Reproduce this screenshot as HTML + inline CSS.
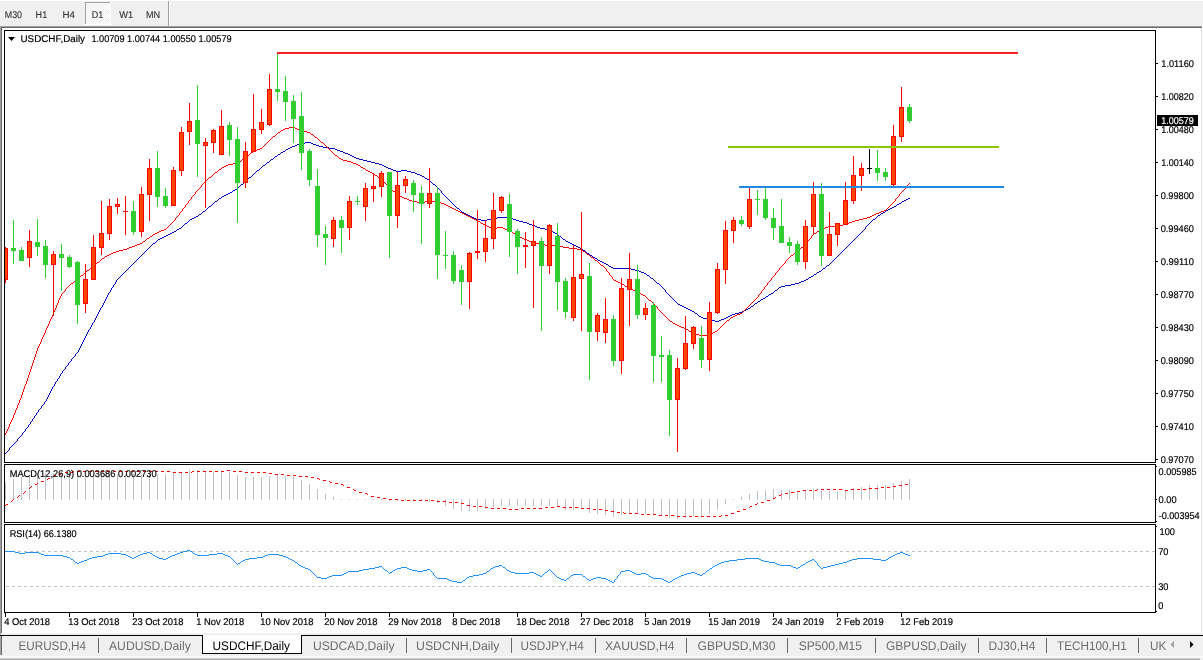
<!DOCTYPE html>
<html lang="en"><head><meta charset="utf-8"><title>USDCHF,Daily</title>
<style>html,body{margin:0;padding:0}body{width:1203px;height:660px;overflow:hidden;background:#f0f0f0;position:relative}svg{position:absolute;left:0;top:0;display:block}text{font-family:"Liberation Sans", sans-serif;white-space:pre;text-rendering:geometricPrecision}</style></head><body>
<svg width="1203" height="660" viewBox="0 0 1203 660" shape-rendering="crispEdges">
<rect x="0" y="0" width="1203" height="660" fill="#f0f0f0"/>
<rect x="0" y="0" width="1203" height="1" fill="#ffffff"/>
<rect x="2" y="28" width="1199" height="605" fill="#ffffff"/>
<rect x="1202" y="26" width="1" height="609" fill="#ffffff"/>
<rect x="1201" y="28" width="1" height="605" fill="#e3e3e3"/>
<rect x="0" y="26" width="1202" height="1" fill="#a0a0a0"/>
<rect x="1" y="27" width="1201" height="1" fill="#696969"/>
<rect x="0" y="26" width="1" height="629" fill="#a0a0a0"/>
<rect x="1" y="27" width="1" height="606" fill="#696969"/>
<rect x="2" y="633" width="1201" height="2" fill="#f0f0f0"/>
<rect x="0" y="635" width="1203" height="1" fill="#000000"/>
<rect x="0" y="636" width="1" height="19" fill="#a0a0a0"/>
<rect x="1" y="636" width="1" height="19" fill="#696969"/>
<rect x="0" y="656" width="1203" height="2" fill="#fafafa"/>
<rect x="0" y="658" width="1200" height="1" fill="#d0d0d0"/>
<rect x="0" y="659" width="1200" height="1" fill="#aaaaaa"/>
<defs><pattern id="chk" width="2" height="2" patternUnits="userSpaceOnUse"><rect width="2" height="2" fill="#fff"/><rect width="1" height="1" fill="#f0f0f0"/><rect x="1" y="1" width="1" height="1" fill="#f0f0f0"/></pattern></defs>
<rect x="86" y="3" width="24" height="21" fill="url(#chk)"/>
<rect x="85" y="2" width="25" height="1" fill="#a0a0a0"/>
<rect x="85" y="2" width="1" height="22" fill="#a0a0a0"/>
<rect x="85" y="24" width="26" height="1" fill="#ffffff"/>
<rect x="110" y="2" width="1" height="23" fill="#ffffff"/>
<rect x="168" y="1" width="1" height="25" fill="#a0a0a0"/>
<rect x="169" y="1" width="1" height="25" fill="#ffffff"/>
<g shape-rendering="auto" text-rendering="geometricPrecision">
<text x="4.8" y="18" font-size="9.8" fill="#333" textLength="17.2" lengthAdjust="spacingAndGlyphs" stroke="#333" stroke-width="0.12">M30</text>
<text x="35.6" y="18" font-size="9.8" fill="#333" textLength="11.6" lengthAdjust="spacingAndGlyphs" stroke="#333" stroke-width="0.12">H1</text>
<text x="62.5" y="18" font-size="9.8" fill="#333" textLength="12.4" lengthAdjust="spacingAndGlyphs" stroke="#333" stroke-width="0.12">H4</text>
<text x="91.7" y="18" font-size="9.8" fill="#333" textLength="11.5" lengthAdjust="spacingAndGlyphs" stroke="#333" stroke-width="0.12">D1</text>
<text x="119.3" y="18" font-size="9.8" fill="#333" textLength="13.9" lengthAdjust="spacingAndGlyphs" stroke="#333" stroke-width="0.12">W1</text>
<text x="146" y="18" font-size="9.8" fill="#333" textLength="14.2" lengthAdjust="spacingAndGlyphs" stroke="#333" stroke-width="0.12">MN</text>
</g>
<rect x="4" y="30" width="1152" height="1" fill="#000"/>
<rect x="4" y="462" width="1152" height="1" fill="#000"/>
<rect x="4" y="30" width="1" height="433" fill="#000"/>
<rect x="1155" y="30" width="1" height="433" fill="#000"/>
<rect x="4" y="464" width="1152" height="1" fill="#000"/>
<rect x="4" y="522" width="1152" height="1" fill="#000"/>
<rect x="4" y="464" width="1" height="59" fill="#000"/>
<rect x="1155" y="464" width="1" height="59" fill="#000"/>
<rect x="4" y="524" width="1152" height="1" fill="#000"/>
<rect x="4" y="612" width="1152" height="1" fill="#000"/>
<rect x="4" y="524" width="1" height="89" fill="#000"/>
<rect x="1155" y="524" width="1" height="89" fill="#000"/>
<defs><clipPath id="c1"><rect x="5" y="31" width="1150" height="431"/></clipPath><clipPath id="c2"><rect x="5" y="465" width="1150" height="57"/></clipPath><clipPath id="c3"><rect x="5" y="525" width="1150" height="87"/></clipPath></defs>
<g clip-path="url(#c1)">
<path d="M305 142h6v1h-6zM300 143h5v1h-5zM311 143h2v1h-2zM297 144h3v1h-3zM313 144h3v1h-3zM295 145h2v1h-2zM316 145h3v1h-3zM292 146h3v1h-3zM319 146h4v1h-4zM290 147h2v1h-2zM323 147h6v1h-6zM288 148h2v1h-2zM329 148h6v1h-6zM286 149h2v1h-2zM335 149h2v1h-2zM285 150h1v1h-1zM337 150h3v1h-3zM283 151h2v1h-2zM340 151h3v1h-3zM281 152h2v1h-2zM343 152h2v1h-2zM280 153h1v1h-1zM345 153h3v1h-3zM278 154h2v1h-2zM348 154h2v1h-2zM277 155h1v1h-1zM350 155h2v1h-2zM275 156h2v1h-2zM352 156h2v1h-2zM274 157h1v1h-1zM354 157h2v1h-2zM273 158h1v1h-1zM356 158h3v1h-3zM271 159h2v1h-2zM359 159h4v1h-4zM270 160h1v1h-1zM363 160h4v1h-4zM269 161h1v1h-1zM367 161h4v1h-4zM267 162h2v1h-2zM371 162h4v1h-4zM266 163h1v1h-1zM375 163h4v1h-4zM265 164h1v1h-1zM379 164h3v1h-3zM263 165h2v1h-2zM382 165h2v1h-2zM262 166h1v1h-1zM384 166h2v1h-2zM261 167h1v1h-1zM386 167h2v1h-2zM260 168h1v1h-1zM388 168h3v1h-3zM259 169h1v1h-1zM391 169h2v1h-2zM257 170h2v1h-2zM393 170h3v1h-3zM401 170h6v1h-6zM256 171h1v1h-1zM396 171h5v1h-5zM407 171h4v1h-4zM255 172h1v1h-1zM411 172h4v1h-4zM254 173h1v1h-1zM415 173h2v1h-2zM253 174h1v1h-1zM417 174h3v1h-3zM252 175h1v1h-1zM420 175h2v1h-2zM251 176h1v1h-1zM422 176h2v1h-2zM249 177h2v1h-2zM424 177h1v1h-1zM248 178h1v1h-1zM425 178h2v1h-2zM247 179h1v1h-1zM427 179h2v1h-2zM246 180h1v1h-1zM429 180h1v1h-1zM245 181h1v1h-1zM430 181h1v1h-1zM244 182h1v1h-1zM431 182h1v1h-1zM243 183h1v1h-1zM432 183h1v1h-1zM241 184h2v1h-2zM433 184h2v1h-2zM240 185h1v1h-1zM435 185h1v1h-1zM239 186h1v1h-1zM436 186h1v1h-1zM238 187h1v1h-1zM437 187h1v1h-1zM237 188h1v1h-1zM438 188h1v1h-1zM235 189h2v1h-2zM439 189h1v1h-1zM233 190h2v1h-2zM440 190h1v1h-1zM232 191h1v1h-1zM441 191h1v2h-1zM230 192h2v1h-2zM228 193h2v1h-2zM442 193h1v1h-1zM226 194h2v1h-2zM443 194h1v1h-1zM224 195h2v1h-2zM444 195h1v1h-1zM222 196h2v1h-2zM445 196h1v1h-1zM221 197h1v1h-1zM446 197h1v1h-1zM219 198h2v1h-2zM447 198h1v1h-1zM908 198h2v1h-2zM218 199h1v1h-1zM448 199h1v1h-1zM906 199h2v1h-2zM217 200h1v1h-1zM449 200h1v1h-1zM904 200h2v1h-2zM215 201h2v1h-2zM450 201h1v1h-1zM902 201h2v1h-2zM214 202h1v1h-1zM451 202h1v1h-1zM901 202h1v1h-1zM213 203h1v1h-1zM452 203h1v1h-1zM899 203h2v1h-2zM212 204h1v1h-1zM453 204h1v1h-1zM897 204h2v1h-2zM211 205h1v1h-1zM454 205h1v1h-1zM896 205h1v1h-1zM209 206h2v1h-2zM455 206h1v1h-1zM894 206h2v1h-2zM208 207h1v1h-1zM456 207h1v1h-1zM892 207h2v1h-2zM207 208h1v1h-1zM457 208h2v1h-2zM890 208h2v1h-2zM206 209h1v1h-1zM459 209h1v1h-1zM888 209h2v1h-2zM205 210h1v1h-1zM460 210h1v1h-1zM886 210h2v1h-2zM203 211h2v1h-2zM461 211h1v1h-1zM885 211h1v1h-1zM202 212h1v1h-1zM462 212h2v1h-2zM883 212h2v1h-2zM201 213h1v1h-1zM464 213h2v1h-2zM881 213h2v1h-2zM199 214h2v1h-2zM466 214h2v1h-2zM880 214h1v1h-1zM198 215h1v1h-1zM468 215h2v1h-2zM878 215h2v1h-2zM196 216h2v1h-2zM470 216h2v1h-2zM877 216h1v1h-1zM194 217h2v1h-2zM472 217h2v1h-2zM497 217h14v1h-14zM876 217h1v1h-1zM192 218h2v1h-2zM474 218h2v1h-2zM491 218h6v1h-6zM511 218h2v1h-2zM875 218h1v1h-1zM190 219h2v1h-2zM476 219h5v1h-5zM487 219h4v1h-4zM513 219h3v1h-3zM873 219h2v1h-2zM189 220h1v1h-1zM481 220h6v1h-6zM516 220h3v1h-3zM872 220h1v1h-1zM188 221h1v1h-1zM519 221h4v1h-4zM871 221h1v1h-1zM187 222h1v1h-1zM523 222h4v1h-4zM870 222h1v1h-1zM185 223h2v1h-2zM527 223h2v1h-2zM869 223h1v1h-1zM184 224h1v1h-1zM529 224h3v1h-3zM868 224h1v1h-1zM183 225h1v1h-1zM532 225h3v1h-3zM867 225h1v1h-1zM182 226h1v1h-1zM535 226h2v1h-2zM866 226h1v1h-1zM181 227h1v1h-1zM537 227h3v1h-3zM865 227h1v2h-1zM179 228h2v1h-2zM540 228h5v1h-5zM177 229h2v1h-2zM545 229h5v1h-5zM864 229h1v1h-1zM176 230h1v1h-1zM550 230h2v1h-2zM863 230h1v1h-1zM174 231h2v1h-2zM552 231h1v1h-1zM862 231h1v1h-1zM172 232h2v1h-2zM553 232h2v1h-2zM861 232h1v1h-1zM170 233h2v1h-2zM555 233h2v1h-2zM860 233h1v1h-1zM168 234h2v1h-2zM557 234h1v1h-1zM859 234h1v1h-1zM166 235h2v1h-2zM558 235h1v1h-1zM858 235h1v1h-1zM164 236h2v1h-2zM559 236h2v1h-2zM857 236h1v1h-1zM162 237h2v1h-2zM561 237h1v1h-1zM856 237h1v1h-1zM160 238h2v1h-2zM562 238h1v1h-1zM855 238h1v1h-1zM158 239h2v1h-2zM563 239h2v1h-2zM854 239h1v1h-1zM157 240h1v1h-1zM565 240h1v1h-1zM853 240h1v1h-1zM156 241h1v1h-1zM566 241h2v1h-2zM852 241h1v1h-1zM155 242h1v1h-1zM568 242h2v1h-2zM851 242h1v1h-1zM153 243h2v1h-2zM570 243h2v1h-2zM850 243h1v1h-1zM152 244h1v1h-1zM572 244h2v1h-2zM849 244h1v1h-1zM151 245h1v1h-1zM574 245h2v1h-2zM848 245h1v1h-1zM150 246h1v1h-1zM576 246h2v1h-2zM847 246h1v1h-1zM149 247h1v1h-1zM578 247h2v1h-2zM846 247h1v1h-1zM148 248h1v1h-1zM580 248h2v1h-2zM845 248h1v1h-1zM147 249h1v1h-1zM582 249h1v1h-1zM844 249h1v1h-1zM146 250h1v1h-1zM583 250h2v1h-2zM843 250h1v1h-1zM145 251h1v1h-1zM585 251h1v1h-1zM842 251h1v1h-1zM144 252h1v1h-1zM586 252h1v1h-1zM841 252h1v1h-1zM143 253h1v1h-1zM587 253h2v1h-2zM840 253h1v1h-1zM142 254h1v1h-1zM589 254h1v1h-1zM839 254h1v1h-1zM141 255h1v1h-1zM590 255h2v1h-2zM838 255h1v1h-1zM140 256h1v1h-1zM592 256h1v1h-1zM837 256h1v1h-1zM139 257h1v1h-1zM593 257h2v1h-2zM836 257h1v1h-1zM138 258h1v1h-1zM595 258h2v1h-2zM835 258h1v1h-1zM137 259h1v1h-1zM597 259h1v1h-1zM834 259h1v1h-1zM136 260h1v1h-1zM598 260h2v1h-2zM833 260h1v1h-1zM135 261h1v1h-1zM600 261h2v1h-2zM832 261h1v1h-1zM134 262h1v1h-1zM602 262h2v1h-2zM831 262h1v1h-1zM133 263h1v1h-1zM604 263h2v1h-2zM830 263h1v1h-1zM132 264h1v1h-1zM606 264h2v1h-2zM829 264h1v1h-1zM131 265h1v1h-1zM608 265h1v1h-1zM827 265h2v1h-2zM130 266h1v1h-1zM609 266h2v1h-2zM826 266h1v1h-1zM129 267h1v1h-1zM611 267h2v1h-2zM825 267h1v1h-1zM128 268h1v1h-1zM613 268h18v1h-18zM823 268h2v1h-2zM127 269h1v1h-1zM631 269h4v1h-4zM822 269h1v1h-1zM126 270h1v1h-1zM635 270h4v1h-4zM821 270h1v1h-1zM125 271h1v1h-1zM639 271h2v1h-2zM819 271h2v1h-2zM124 272h1v1h-1zM641 272h3v1h-3zM817 272h2v1h-2zM123 273h1v1h-1zM644 273h2v1h-2zM816 273h1v1h-1zM122 274h1v1h-1zM646 274h1v1h-1zM814 274h2v1h-2zM121 275h1v1h-1zM647 275h2v1h-2zM813 275h1v1h-1zM120 276h1v1h-1zM649 276h1v1h-1zM811 276h2v1h-2zM119 277h1v1h-1zM650 277h1v1h-1zM809 277h2v1h-2zM118 278h1v1h-1zM651 278h2v1h-2zM808 278h1v1h-1zM117 279h1v1h-1zM653 279h1v1h-1zM806 279h2v1h-2zM116 280h1v2h-1zM654 280h1v1h-1zM804 280h2v1h-2zM655 281h1v1h-1zM801 281h3v1h-3zM115 282h1v2h-1zM656 282h1v1h-1zM799 282h2v1h-2zM657 283h2v1h-2zM795 283h4v1h-4zM114 284h1v1h-1zM659 284h1v1h-1zM791 284h4v1h-4zM113 285h1v2h-1zM660 285h1v1h-1zM785 285h6v1h-6zM661 286h1v1h-1zM781 286h4v1h-4zM112 287h1v1h-1zM662 287h1v1h-1zM779 287h2v1h-2zM111 288h1v2h-1zM663 288h1v1h-1zM778 288h1v1h-1zM664 289h1v1h-1zM777 289h1v1h-1zM110 290h1v2h-1zM665 290h1v2h-1zM775 290h2v1h-2zM774 291h1v1h-1zM109 292h1v1h-1zM666 292h1v1h-1zM773 292h1v1h-1zM108 293h1v2h-1zM667 293h1v1h-1zM771 293h2v1h-2zM668 294h1v1h-1zM769 294h2v1h-2zM107 295h1v2h-1zM669 295h1v1h-1zM768 295h1v1h-1zM670 296h1v1h-1zM766 296h2v1h-2zM106 297h1v2h-1zM671 297h1v1h-1zM765 297h1v1h-1zM672 298h1v1h-1zM763 298h2v1h-2zM105 299h1v2h-1zM673 299h1v1h-1zM761 299h2v1h-2zM674 300h1v1h-1zM760 300h1v1h-1zM104 301h1v2h-1zM675 301h1v1h-1zM758 301h2v1h-2zM676 302h1v1h-1zM757 302h1v1h-1zM103 303h1v2h-1zM677 303h1v1h-1zM755 303h2v1h-2zM678 304h2v1h-2zM754 304h1v1h-1zM102 305h1v2h-1zM680 305h2v1h-2zM753 305h1v1h-1zM682 306h2v1h-2zM751 306h2v1h-2zM101 307h1v1h-1zM684 307h2v1h-2zM750 307h1v1h-1zM100 308h1v2h-1zM686 308h2v1h-2zM748 308h2v1h-2zM688 309h2v1h-2zM746 309h2v1h-2zM99 310h1v2h-1zM690 310h2v1h-2zM744 310h2v1h-2zM692 311h2v1h-2zM742 311h2v1h-2zM98 312h1v2h-1zM694 312h1v1h-1zM739 312h3v1h-3zM695 313h2v1h-2zM735 313h4v1h-4zM97 314h1v2h-1zM697 314h1v1h-1zM732 314h3v1h-3zM698 315h1v1h-1zM730 315h2v1h-2zM96 316h1v2h-1zM699 316h2v1h-2zM728 316h2v1h-2zM701 317h2v1h-2zM726 317h2v1h-2zM95 318h1v2h-1zM703 318h4v1h-4zM724 318h2v1h-2zM707 319h4v1h-4zM721 319h3v1h-3zM94 320h1v2h-1zM711 320h4v1h-4zM719 320h2v1h-2zM715 321h4v1h-4zM93 322h1v1h-1zM92 323h1v2h-1zM91 325h1v2h-1zM90 327h1v2h-1zM89 329h1v1h-1zM88 330h1v2h-1zM87 332h1v2h-1zM86 334h1v2h-1zM85 336h1v2h-1zM84 338h1v2h-1zM83 340h1v2h-1zM82 342h1v2h-1zM81 344h1v2h-1zM80 346h1v2h-1zM79 348h1v2h-1zM78 350h1v2h-1zM77 352h1v1h-1zM76 353h1v1h-1zM75 354h1v2h-1zM74 356h1v1h-1zM73 357h1v1h-1zM72 358h1v1h-1zM71 359h1v2h-1zM70 361h1v1h-1zM69 362h1v1h-1zM68 363h1v2h-1zM67 365h1v1h-1zM66 366h1v1h-1zM65 367h1v2h-1zM64 369h1v1h-1zM63 370h1v1h-1zM62 371h1v2h-1zM61 373h1v1h-1zM60 374h1v2h-1zM59 376h1v2h-1zM58 378h1v1h-1zM57 379h1v2h-1zM56 381h1v1h-1zM55 382h1v2h-1zM54 384h1v2h-1zM53 386h1v1h-1zM52 387h1v2h-1zM51 389h1v2h-1zM50 391h1v2h-1zM49 393h1v2h-1zM48 395h1v2h-1zM47 397h1v2h-1zM46 399h1v2h-1zM45 401h1v1h-1zM44 402h1v2h-1zM43 404h1v1h-1zM42 405h1v1h-1zM41 406h1v2h-1zM40 408h1v1h-1zM39 409h1v1h-1zM38 410h1v2h-1zM37 412h1v1h-1zM36 413h1v2h-1zM35 415h1v1h-1zM34 416h1v2h-1zM33 418h1v1h-1zM32 419h1v2h-1zM31 421h1v1h-1zM30 422h1v2h-1zM29 424h1v1h-1zM28 425h1v2h-1zM27 427h1v1h-1zM26 428h1v1h-1zM25 429h1v2h-1zM24 431h1v1h-1zM23 432h1v1h-1zM22 433h1v2h-1zM21 435h1v1h-1zM20 436h1v1h-1zM19 437h1v1h-1zM18 438h1v1h-1zM17 439h1v2h-1zM16 441h1v1h-1zM15 442h1v1h-1zM14 443h1v1h-1zM13 444h1v1h-1zM12 445h1v1h-1zM11 446h1v1h-1zM10 447h1v1h-1zM9 448h1v2h-1zM8 450h1v1h-1zM7 451h1v1h-1zM6 452h1v1h-1zM5 453h1v1h-1z" fill="#0000cd"/>
<path d="M289 127h6v1h-6zM285 128h4v1h-4zM295 128h2v1h-2zM283 129h2v1h-2zM297 129h3v1h-3zM281 130h2v1h-2zM300 130h3v1h-3zM280 131h1v1h-1zM303 131h4v1h-4zM278 132h2v1h-2zM307 132h3v1h-3zM277 133h1v1h-1zM310 133h1v1h-1zM276 134h1v1h-1zM311 134h2v1h-2zM275 135h1v1h-1zM313 135h1v1h-1zM273 136h2v1h-2zM314 136h1v1h-1zM272 137h1v1h-1zM315 137h2v1h-2zM271 138h1v1h-1zM317 138h1v1h-1zM270 139h1v1h-1zM318 139h1v1h-1zM269 140h1v1h-1zM319 140h1v1h-1zM268 141h1v1h-1zM320 141h1v1h-1zM267 142h1v1h-1zM321 142h2v1h-2zM266 143h1v1h-1zM323 143h1v1h-1zM265 144h1v1h-1zM324 144h1v1h-1zM264 145h1v1h-1zM325 145h1v1h-1zM263 146h1v1h-1zM326 146h1v1h-1zM262 147h1v1h-1zM327 147h1v1h-1zM260 148h2v1h-2zM328 148h1v1h-1zM257 149h3v1h-3zM329 149h1v1h-1zM255 150h2v1h-2zM330 150h1v1h-1zM253 151h2v1h-2zM331 151h1v1h-1zM251 152h2v1h-2zM332 152h1v1h-1zM250 153h1v1h-1zM333 153h1v1h-1zM249 154h1v1h-1zM334 154h1v1h-1zM247 155h2v1h-2zM335 155h2v1h-2zM246 156h1v1h-1zM337 156h1v1h-1zM245 157h1v1h-1zM338 157h1v1h-1zM243 158h2v1h-2zM339 158h2v1h-2zM242 159h1v1h-1zM341 159h2v1h-2zM241 160h1v1h-1zM343 160h4v1h-4zM239 161h2v1h-2zM347 161h4v1h-4zM238 162h1v1h-1zM351 162h2v1h-2zM233 163h5v1h-5zM353 163h3v1h-3zM228 164h5v1h-5zM356 164h2v1h-2zM226 165h2v1h-2zM358 165h2v1h-2zM224 166h2v1h-2zM360 166h1v1h-1zM222 167h2v1h-2zM361 167h2v1h-2zM221 168h1v1h-1zM363 168h2v1h-2zM219 169h2v1h-2zM365 169h1v1h-1zM218 170h1v1h-1zM366 170h2v1h-2zM217 171h1v1h-1zM368 171h2v1h-2zM215 172h2v1h-2zM370 172h2v1h-2zM214 173h1v1h-1zM372 173h2v1h-2zM213 174h1v1h-1zM374 174h1v1h-1zM212 175h1v1h-1zM375 175h2v1h-2zM211 176h1v1h-1zM377 176h1v1h-1zM209 177h2v1h-2zM378 177h1v1h-1zM208 178h1v1h-1zM379 178h2v1h-2zM207 179h1v1h-1zM381 179h1v1h-1zM206 180h1v1h-1zM382 180h1v1h-1zM205 181h1v1h-1zM383 181h1v1h-1zM204 182h1v1h-1zM384 182h1v1h-1zM203 183h1v1h-1zM385 183h1v1h-1zM909 183h1v1h-1zM202 184h1v1h-1zM386 184h1v1h-1zM908 184h1v1h-1zM201 185h1v2h-1zM387 185h1v1h-1zM907 185h1v1h-1zM388 186h1v1h-1zM906 186h1v1h-1zM200 187h1v1h-1zM389 187h1v1h-1zM905 187h1v2h-1zM199 188h1v1h-1zM390 188h1v1h-1zM198 189h1v1h-1zM391 189h1v1h-1zM904 189h1v1h-1zM197 190h1v1h-1zM392 190h1v1h-1zM903 190h1v1h-1zM196 191h1v1h-1zM393 191h2v1h-2zM902 191h1v1h-1zM195 192h1v2h-1zM395 192h1v1h-1zM901 192h1v1h-1zM396 193h1v1h-1zM900 193h1v1h-1zM194 194h1v1h-1zM397 194h1v1h-1zM899 194h1v2h-1zM193 195h1v1h-1zM398 195h2v1h-2zM192 196h1v1h-1zM400 196h2v1h-2zM898 196h1v1h-1zM191 197h1v2h-1zM402 197h2v1h-2zM897 197h1v1h-1zM404 198h3v1h-3zM896 198h1v1h-1zM190 199h1v1h-1zM407 199h2v1h-2zM895 199h1v2h-1zM189 200h1v1h-1zM409 200h3v1h-3zM188 201h1v2h-1zM412 201h5v1h-5zM425 201h14v1h-14zM894 201h1v1h-1zM417 202h8v1h-8zM439 202h2v1h-2zM893 202h1v1h-1zM187 203h1v1h-1zM441 203h3v1h-3zM892 203h1v1h-1zM186 204h1v1h-1zM444 204h2v1h-2zM891 204h1v1h-1zM185 205h1v2h-1zM446 205h2v1h-2zM890 205h1v1h-1zM448 206h2v1h-2zM889 206h1v1h-1zM184 207h1v1h-1zM450 207h2v1h-2zM888 207h1v1h-1zM183 208h1v1h-1zM452 208h2v1h-2zM887 208h1v1h-1zM182 209h1v2h-1zM454 209h2v1h-2zM886 209h1v1h-1zM456 210h2v1h-2zM884 210h2v1h-2zM181 211h1v1h-1zM458 211h2v1h-2zM881 211h3v1h-3zM180 212h1v1h-1zM460 212h2v1h-2zM879 212h2v1h-2zM179 213h1v2h-1zM462 213h2v1h-2zM876 213h3v1h-3zM464 214h2v1h-2zM874 214h2v1h-2zM178 215h1v1h-1zM466 215h2v1h-2zM872 215h2v1h-2zM177 216h1v1h-1zM468 216h2v1h-2zM870 216h2v1h-2zM176 217h1v1h-1zM470 217h2v1h-2zM867 217h3v1h-3zM175 218h1v2h-1zM472 218h2v1h-2zM863 218h4v1h-4zM474 219h2v1h-2zM859 219h4v1h-4zM174 220h1v1h-1zM476 220h2v1h-2zM855 220h4v1h-4zM173 221h1v1h-1zM478 221h2v1h-2zM852 221h3v1h-3zM172 222h1v1h-1zM480 222h1v1h-1zM849 222h3v1h-3zM171 223h1v1h-1zM481 223h2v1h-2zM847 223h2v1h-2zM170 224h1v1h-1zM483 224h2v1h-2zM843 224h4v1h-4zM169 225h1v1h-1zM485 225h2v1h-2zM839 225h4v1h-4zM168 226h1v1h-1zM487 226h2v1h-2zM828 226h11v1h-11zM167 227h1v1h-1zM489 227h3v1h-3zM497 227h6v1h-6zM825 227h3v1h-3zM166 228h1v1h-1zM492 228h5v1h-5zM503 228h2v1h-2zM823 228h2v1h-2zM164 229h2v1h-2zM505 229h3v1h-3zM821 229h2v1h-2zM161 230h3v1h-3zM508 230h2v1h-2zM819 230h2v1h-2zM159 231h2v1h-2zM510 231h2v1h-2zM817 231h2v1h-2zM157 232h2v1h-2zM512 232h1v1h-1zM816 232h1v1h-1zM155 233h2v1h-2zM513 233h2v1h-2zM814 233h2v1h-2zM153 234h2v1h-2zM515 234h2v1h-2zM813 234h1v1h-1zM152 235h1v1h-1zM517 235h1v1h-1zM812 235h1v1h-1zM150 236h2v1h-2zM518 236h2v1h-2zM811 236h1v2h-1zM149 237h1v1h-1zM520 237h2v1h-2zM147 238h2v1h-2zM522 238h2v1h-2zM810 238h1v1h-1zM146 239h1v1h-1zM524 239h3v1h-3zM809 239h1v1h-1zM145 240h1v1h-1zM527 240h2v1h-2zM808 240h1v1h-1zM143 241h2v1h-2zM529 241h3v1h-3zM807 241h1v2h-1zM142 242h1v1h-1zM532 242h3v1h-3zM140 243h2v1h-2zM535 243h4v1h-4zM806 243h1v1h-1zM137 244h3v1h-3zM539 244h6v1h-6zM805 244h1v1h-1zM135 245h2v1h-2zM545 245h14v1h-14zM804 245h1v1h-1zM132 246h3v1h-3zM559 246h4v1h-4zM803 246h1v1h-1zM129 247h3v1h-3zM563 247h6v1h-6zM801 247h2v1h-2zM127 248h2v1h-2zM569 248h8v1h-8zM800 248h1v1h-1zM123 249h4v1h-4zM577 249h5v1h-5zM799 249h1v1h-1zM119 250h4v1h-4zM582 250h1v1h-1zM798 250h1v1h-1zM116 251h3v1h-3zM583 251h2v1h-2zM797 251h1v1h-1zM113 252h3v1h-3zM585 252h1v1h-1zM795 252h2v1h-2zM111 253h2v1h-2zM586 253h1v1h-1zM794 253h1v1h-1zM109 254h2v1h-2zM587 254h2v1h-2zM793 254h1v1h-1zM107 255h2v1h-2zM589 255h1v1h-1zM791 255h2v1h-2zM105 256h2v1h-2zM590 256h1v1h-1zM790 256h1v1h-1zM104 257h1v1h-1zM591 257h2v1h-2zM789 257h1v1h-1zM102 258h2v1h-2zM593 258h1v1h-1zM788 258h1v1h-1zM101 259h1v1h-1zM594 259h1v1h-1zM787 259h1v1h-1zM100 260h1v1h-1zM595 260h2v1h-2zM786 260h1v1h-1zM99 261h1v1h-1zM597 261h1v1h-1zM785 261h1v2h-1zM97 262h2v1h-2zM598 262h1v1h-1zM96 263h1v1h-1zM599 263h1v1h-1zM784 263h1v1h-1zM95 264h1v1h-1zM600 264h1v1h-1zM783 264h1v1h-1zM94 265h1v1h-1zM601 265h2v1h-2zM782 265h1v1h-1zM93 266h1v1h-1zM603 266h1v1h-1zM781 266h1v1h-1zM91 267h2v1h-2zM604 267h1v1h-1zM780 267h1v1h-1zM90 268h1v1h-1zM605 268h1v1h-1zM779 268h1v2h-1zM89 269h1v1h-1zM606 269h1v2h-1zM87 270h2v1h-2zM778 270h1v1h-1zM86 271h1v1h-1zM607 271h1v1h-1zM777 271h1v1h-1zM85 272h1v1h-1zM608 272h1v1h-1zM776 272h1v1h-1zM84 273h1v1h-1zM609 273h1v2h-1zM775 273h1v2h-1zM83 274h1v1h-1zM81 275h2v1h-2zM610 275h1v1h-1zM774 275h1v1h-1zM80 276h1v1h-1zM611 276h1v1h-1zM773 276h1v1h-1zM79 277h1v1h-1zM612 277h1v2h-1zM772 277h1v1h-1zM78 278h1v1h-1zM771 278h1v2h-1zM77 279h1v1h-1zM613 279h1v1h-1zM75 280h2v1h-2zM614 280h2v1h-2zM770 280h1v1h-1zM74 281h1v1h-1zM616 281h2v1h-2zM769 281h1v1h-1zM73 282h1v1h-1zM618 282h2v1h-2zM768 282h1v1h-1zM71 283h2v1h-2zM620 283h2v1h-2zM767 283h1v2h-1zM70 284h1v1h-1zM622 284h2v1h-2zM69 285h1v1h-1zM624 285h1v1h-1zM766 285h1v1h-1zM68 286h1v1h-1zM625 286h2v1h-2zM765 286h1v1h-1zM67 287h1v1h-1zM627 287h2v1h-2zM764 287h1v2h-1zM66 288h1v1h-1zM629 288h2v1h-2zM65 289h1v2h-1zM631 289h2v1h-2zM763 289h1v1h-1zM633 290h3v1h-3zM762 290h1v1h-1zM64 291h1v1h-1zM636 291h2v1h-2zM761 291h1v2h-1zM63 292h1v1h-1zM638 292h2v1h-2zM62 293h1v1h-1zM640 293h1v1h-1zM760 293h1v1h-1zM61 294h1v2h-1zM641 294h2v1h-2zM759 294h1v1h-1zM643 295h2v1h-2zM758 295h1v2h-1zM60 296h1v2h-1zM645 296h1v1h-1zM646 297h1v1h-1zM757 297h1v1h-1zM59 298h1v2h-1zM647 298h1v1h-1zM756 298h1v1h-1zM648 299h1v1h-1zM755 299h1v1h-1zM58 300h1v3h-1zM649 300h2v1h-2zM754 300h1v1h-1zM651 301h1v1h-1zM753 301h1v1h-1zM652 302h1v1h-1zM752 302h1v1h-1zM57 303h1v2h-1zM653 303h1v1h-1zM751 303h1v1h-1zM654 304h1v1h-1zM750 304h1v1h-1zM56 305h1v3h-1zM655 305h1v1h-1zM749 305h1v1h-1zM656 306h1v1h-1zM748 306h1v1h-1zM657 307h1v2h-1zM747 307h1v1h-1zM55 308h1v2h-1zM746 308h1v1h-1zM658 309h1v1h-1zM745 309h1v1h-1zM54 310h1v2h-1zM659 310h1v1h-1zM744 310h1v1h-1zM660 311h1v1h-1zM743 311h1v1h-1zM53 312h1v3h-1zM661 312h1v1h-1zM742 312h1v1h-1zM662 313h1v1h-1zM740 313h2v1h-2zM663 314h1v1h-1zM737 314h3v1h-3zM52 315h1v2h-1zM664 315h1v1h-1zM735 315h2v1h-2zM665 316h1v1h-1zM733 316h2v1h-2zM51 317h1v2h-1zM666 317h1v1h-1zM731 317h2v1h-2zM667 318h1v1h-1zM730 318h1v1h-1zM50 319h1v2h-1zM668 319h1v1h-1zM729 319h1v1h-1zM669 320h1v1h-1zM727 320h2v1h-2zM49 321h1v3h-1zM670 321h2v1h-2zM726 321h1v1h-1zM672 322h1v1h-1zM725 322h1v1h-1zM673 323h2v1h-2zM724 323h1v1h-1zM48 324h1v2h-1zM675 324h2v1h-2zM723 324h1v1h-1zM677 325h2v1h-2zM722 325h1v1h-1zM47 326h1v2h-1zM679 326h2v1h-2zM721 326h1v1h-1zM681 327h3v1h-3zM720 327h1v1h-1zM46 328h1v2h-1zM684 328h2v1h-2zM719 328h1v1h-1zM686 329h2v1h-2zM718 329h1v1h-1zM45 330h1v3h-1zM688 330h1v1h-1zM717 330h1v1h-1zM689 331h2v1h-2zM715 331h2v1h-2zM691 332h2v1h-2zM713 332h2v1h-2zM44 333h1v2h-1zM693 333h2v1h-2zM712 333h1v1h-1zM695 334h4v1h-4zM710 334h2v1h-2zM43 335h1v2h-1zM699 335h11v1h-11zM42 337h1v2h-1zM41 339h1v3h-1zM40 342h1v2h-1zM39 344h1v2h-1zM38 346h1v2h-1zM37 348h1v3h-1zM36 351h1v3h-1zM35 354h1v3h-1zM34 357h1v3h-1zM33 360h1v3h-1zM32 363h1v3h-1zM31 366h1v3h-1zM30 369h1v3h-1zM29 372h1v3h-1zM28 375h1v3h-1zM27 378h1v3h-1zM26 381h1v3h-1zM25 384h1v2h-1zM24 386h1v3h-1zM23 389h1v3h-1zM22 392h1v3h-1zM21 395h1v3h-1zM20 398h1v2h-1zM19 400h1v3h-1zM18 403h1v2h-1zM17 405h1v3h-1zM16 408h1v2h-1zM15 410h1v3h-1zM14 413h1v2h-1zM13 415h1v3h-1zM12 418h1v2h-1zM11 420h1v2h-1zM10 422h1v2h-1zM9 424h1v3h-1zM8 427h1v2h-1zM7 429h1v2h-1zM6 431h1v2h-1zM5 433h1v2h-1z" fill="#ff0000"/>
<rect x="5" y="247" width="1" height="36" fill="#ff0000"/>
<rect x="3" y="248" width="5" height="32" fill="#ff0000"/>
<rect x="4" y="249" width="3" height="30" fill="#ff4500"/>
<rect x="13" y="220" width="1" height="44" fill="#32cd32"/>
<rect x="11" y="248" width="5" height="3" fill="#32cd32"/>
<rect x="21" y="247" width="1" height="14" fill="#32cd32"/>
<rect x="19" y="250" width="5" height="11" fill="#32cd32"/>
<rect x="29" y="230" width="1" height="37" fill="#ff0000"/>
<rect x="27" y="241" width="5" height="17" fill="#ff0000"/>
<rect x="28" y="242" width="3" height="15" fill="#ff4500"/>
<rect x="37" y="219" width="1" height="37" fill="#32cd32"/>
<rect x="35" y="242" width="5" height="5" fill="#32cd32"/>
<rect x="45" y="240" width="1" height="38" fill="#32cd32"/>
<rect x="43" y="246" width="5" height="19" fill="#32cd32"/>
<rect x="53" y="251" width="1" height="65" fill="#ff0000"/>
<rect x="51" y="254" width="5" height="11" fill="#ff0000"/>
<rect x="52" y="255" width="3" height="9" fill="#ff4500"/>
<rect x="61" y="244" width="1" height="47" fill="#32cd32"/>
<rect x="59" y="254" width="5" height="4" fill="#32cd32"/>
<rect x="69" y="255" width="1" height="13" fill="#32cd32"/>
<rect x="67" y="257" width="5" height="10" fill="#32cd32"/>
<rect x="77" y="261" width="1" height="63" fill="#32cd32"/>
<rect x="75" y="262" width="5" height="43" fill="#32cd32"/>
<rect x="85" y="264" width="1" height="49" fill="#ff0000"/>
<rect x="83" y="279" width="5" height="25" fill="#ff0000"/>
<rect x="84" y="280" width="3" height="23" fill="#ff4500"/>
<rect x="93" y="235" width="1" height="45" fill="#ff0000"/>
<rect x="91" y="247" width="5" height="33" fill="#ff0000"/>
<rect x="92" y="248" width="3" height="31" fill="#ff4500"/>
<rect x="101" y="201" width="1" height="54" fill="#ff0000"/>
<rect x="99" y="233" width="5" height="15" fill="#ff0000"/>
<rect x="100" y="234" width="3" height="13" fill="#ff4500"/>
<rect x="109" y="199" width="1" height="41" fill="#ff0000"/>
<rect x="107" y="206" width="5" height="28" fill="#ff0000"/>
<rect x="108" y="207" width="3" height="26" fill="#ff4500"/>
<rect x="117" y="198" width="1" height="16" fill="#ff0000"/>
<rect x="115" y="204" width="5" height="3" fill="#ff0000"/>
<rect x="116" y="205" width="3" height="1" fill="#ff4500"/>
<rect x="125" y="196" width="1" height="39" fill="#ff0000"/>
<rect x="123" y="211" width="5" height="1" fill="#ff0000"/>
<rect x="133" y="201" width="1" height="34" fill="#32cd32"/>
<rect x="131" y="211" width="5" height="21" fill="#32cd32"/>
<rect x="141" y="187" width="1" height="50" fill="#ff0000"/>
<rect x="139" y="194" width="5" height="38" fill="#ff0000"/>
<rect x="140" y="195" width="3" height="36" fill="#ff4500"/>
<rect x="149" y="159" width="1" height="62" fill="#ff0000"/>
<rect x="147" y="168" width="5" height="27" fill="#ff0000"/>
<rect x="148" y="169" width="3" height="25" fill="#ff4500"/>
<rect x="157" y="151" width="1" height="56" fill="#32cd32"/>
<rect x="155" y="168" width="5" height="29" fill="#32cd32"/>
<rect x="165" y="188" width="1" height="20" fill="#32cd32"/>
<rect x="163" y="196" width="5" height="10" fill="#32cd32"/>
<rect x="173" y="167" width="1" height="39" fill="#ff0000"/>
<rect x="171" y="170" width="5" height="36" fill="#ff0000"/>
<rect x="172" y="171" width="3" height="34" fill="#ff4500"/>
<rect x="181" y="127" width="1" height="49" fill="#ff0000"/>
<rect x="179" y="132" width="5" height="39" fill="#ff0000"/>
<rect x="180" y="133" width="3" height="37" fill="#ff4500"/>
<rect x="189" y="103" width="1" height="42" fill="#ff0000"/>
<rect x="187" y="121" width="5" height="11" fill="#ff0000"/>
<rect x="188" y="122" width="3" height="9" fill="#ff4500"/>
<rect x="197" y="85" width="1" height="92" fill="#32cd32"/>
<rect x="195" y="120" width="5" height="24" fill="#32cd32"/>
<rect x="205" y="138" width="1" height="70" fill="#ff0000"/>
<rect x="203" y="142" width="5" height="4" fill="#ff0000"/>
<rect x="204" y="143" width="3" height="2" fill="#ff4500"/>
<rect x="213" y="129" width="1" height="24" fill="#ff0000"/>
<rect x="211" y="130" width="5" height="13" fill="#ff0000"/>
<rect x="212" y="131" width="3" height="11" fill="#ff4500"/>
<rect x="221" y="110" width="1" height="45" fill="#ff0000"/>
<rect x="219" y="126" width="5" height="29" fill="#ff0000"/>
<rect x="220" y="127" width="3" height="27" fill="#ff4500"/>
<rect x="229" y="122" width="1" height="34" fill="#32cd32"/>
<rect x="227" y="125" width="5" height="15" fill="#32cd32"/>
<rect x="237" y="127" width="1" height="96" fill="#32cd32"/>
<rect x="235" y="139" width="5" height="44" fill="#32cd32"/>
<rect x="245" y="142" width="1" height="46" fill="#ff0000"/>
<rect x="243" y="151" width="5" height="32" fill="#ff0000"/>
<rect x="244" y="152" width="3" height="30" fill="#ff4500"/>
<rect x="253" y="94" width="1" height="58" fill="#ff0000"/>
<rect x="251" y="129" width="5" height="23" fill="#ff0000"/>
<rect x="252" y="130" width="3" height="21" fill="#ff4500"/>
<rect x="261" y="109" width="1" height="25" fill="#ff0000"/>
<rect x="259" y="122" width="5" height="8" fill="#ff0000"/>
<rect x="260" y="123" width="3" height="6" fill="#ff4500"/>
<rect x="269" y="74" width="1" height="52" fill="#ff0000"/>
<rect x="267" y="89" width="5" height="36" fill="#ff0000"/>
<rect x="268" y="90" width="3" height="34" fill="#ff4500"/>
<rect x="277" y="52" width="1" height="49" fill="#32cd32"/>
<rect x="275" y="89" width="5" height="3" fill="#32cd32"/>
<rect x="285" y="76" width="1" height="45" fill="#32cd32"/>
<rect x="283" y="91" width="5" height="11" fill="#32cd32"/>
<rect x="293" y="95" width="1" height="48" fill="#32cd32"/>
<rect x="291" y="101" width="5" height="18" fill="#32cd32"/>
<rect x="301" y="92" width="1" height="78" fill="#32cd32"/>
<rect x="299" y="116" width="5" height="37" fill="#32cd32"/>
<rect x="309" y="149" width="1" height="37" fill="#32cd32"/>
<rect x="307" y="151" width="5" height="29" fill="#32cd32"/>
<rect x="317" y="169" width="1" height="78" fill="#32cd32"/>
<rect x="315" y="186" width="5" height="49" fill="#32cd32"/>
<rect x="325" y="226" width="1" height="39" fill="#32cd32"/>
<rect x="323" y="234" width="5" height="4" fill="#32cd32"/>
<rect x="333" y="217" width="1" height="30" fill="#ff0000"/>
<rect x="331" y="220" width="5" height="19" fill="#ff0000"/>
<rect x="332" y="221" width="3" height="17" fill="#ff4500"/>
<rect x="341" y="216" width="1" height="37" fill="#32cd32"/>
<rect x="339" y="220" width="5" height="8" fill="#32cd32"/>
<rect x="349" y="196" width="1" height="44" fill="#ff0000"/>
<rect x="347" y="201" width="5" height="27" fill="#ff0000"/>
<rect x="348" y="202" width="3" height="25" fill="#ff4500"/>
<rect x="357" y="196" width="1" height="9" fill="#32cd32"/>
<rect x="355" y="201" width="5" height="1" fill="#32cd32"/>
<rect x="365" y="183" width="1" height="38" fill="#ff0000"/>
<rect x="363" y="188" width="5" height="19" fill="#ff0000"/>
<rect x="364" y="189" width="3" height="17" fill="#ff4500"/>
<rect x="373" y="173" width="1" height="29" fill="#ff0000"/>
<rect x="371" y="186" width="5" height="3" fill="#ff0000"/>
<rect x="372" y="187" width="3" height="1" fill="#ff4500"/>
<rect x="381" y="171" width="1" height="26" fill="#ff0000"/>
<rect x="379" y="173" width="5" height="14" fill="#ff0000"/>
<rect x="380" y="174" width="3" height="12" fill="#ff4500"/>
<rect x="389" y="172" width="1" height="86" fill="#32cd32"/>
<rect x="387" y="172" width="5" height="44" fill="#32cd32"/>
<rect x="397" y="172" width="1" height="56" fill="#ff0000"/>
<rect x="395" y="185" width="5" height="31" fill="#ff0000"/>
<rect x="396" y="186" width="3" height="29" fill="#ff4500"/>
<rect x="405" y="176" width="1" height="17" fill="#ff0000"/>
<rect x="403" y="179" width="5" height="7" fill="#ff0000"/>
<rect x="404" y="180" width="3" height="5" fill="#ff4500"/>
<rect x="413" y="180" width="1" height="32" fill="#32cd32"/>
<rect x="411" y="183" width="5" height="12" fill="#32cd32"/>
<rect x="421" y="186" width="1" height="58" fill="#32cd32"/>
<rect x="419" y="193" width="5" height="11" fill="#32cd32"/>
<rect x="429" y="168" width="1" height="40" fill="#ff0000"/>
<rect x="427" y="193" width="5" height="11" fill="#ff0000"/>
<rect x="428" y="194" width="3" height="9" fill="#ff4500"/>
<rect x="437" y="187" width="1" height="92" fill="#32cd32"/>
<rect x="435" y="193" width="5" height="62" fill="#32cd32"/>
<rect x="445" y="231" width="1" height="38" fill="#32cd32"/>
<rect x="443" y="255" width="5" height="1" fill="#32cd32"/>
<rect x="453" y="251" width="1" height="33" fill="#32cd32"/>
<rect x="451" y="255" width="5" height="26" fill="#32cd32"/>
<rect x="461" y="265" width="1" height="40" fill="#32cd32"/>
<rect x="459" y="270" width="5" height="12" fill="#32cd32"/>
<rect x="469" y="252" width="1" height="57" fill="#ff0000"/>
<rect x="467" y="253" width="5" height="29" fill="#ff0000"/>
<rect x="468" y="254" width="3" height="27" fill="#ff4500"/>
<rect x="477" y="210" width="1" height="49" fill="#ff0000"/>
<rect x="475" y="251" width="5" height="2" fill="#ff0000"/>
<rect x="485" y="220" width="1" height="42" fill="#ff0000"/>
<rect x="483" y="238" width="5" height="14" fill="#ff0000"/>
<rect x="484" y="239" width="3" height="12" fill="#ff4500"/>
<rect x="493" y="193" width="1" height="56" fill="#ff0000"/>
<rect x="491" y="210" width="5" height="29" fill="#ff0000"/>
<rect x="492" y="211" width="3" height="27" fill="#ff4500"/>
<rect x="501" y="196" width="1" height="17" fill="#ff0000"/>
<rect x="499" y="197" width="5" height="14" fill="#ff0000"/>
<rect x="500" y="198" width="3" height="12" fill="#ff4500"/>
<rect x="509" y="194" width="1" height="63" fill="#32cd32"/>
<rect x="507" y="204" width="5" height="28" fill="#32cd32"/>
<rect x="517" y="229" width="1" height="45" fill="#32cd32"/>
<rect x="515" y="231" width="5" height="16" fill="#32cd32"/>
<rect x="525" y="232" width="1" height="36" fill="#ff0000"/>
<rect x="523" y="245" width="5" height="2" fill="#ff0000"/>
<rect x="533" y="220" width="1" height="88" fill="#ff0000"/>
<rect x="531" y="241" width="5" height="5" fill="#ff0000"/>
<rect x="532" y="242" width="3" height="3" fill="#ff4500"/>
<rect x="541" y="237" width="1" height="94" fill="#32cd32"/>
<rect x="539" y="241" width="5" height="25" fill="#32cd32"/>
<rect x="549" y="224" width="1" height="50" fill="#ff0000"/>
<rect x="547" y="225" width="5" height="41" fill="#ff0000"/>
<rect x="548" y="226" width="3" height="39" fill="#ff4500"/>
<rect x="557" y="223" width="1" height="87" fill="#32cd32"/>
<rect x="555" y="236" width="5" height="46" fill="#32cd32"/>
<rect x="565" y="278" width="1" height="40" fill="#32cd32"/>
<rect x="563" y="281" width="5" height="31" fill="#32cd32"/>
<rect x="573" y="245" width="1" height="76" fill="#ff0000"/>
<rect x="571" y="277" width="5" height="41" fill="#ff0000"/>
<rect x="572" y="278" width="3" height="39" fill="#ff4500"/>
<rect x="581" y="212" width="1" height="119" fill="#ff0000"/>
<rect x="579" y="274" width="5" height="5" fill="#ff0000"/>
<rect x="580" y="275" width="3" height="3" fill="#ff4500"/>
<rect x="589" y="263" width="1" height="117" fill="#32cd32"/>
<rect x="587" y="276" width="5" height="56" fill="#32cd32"/>
<rect x="597" y="313" width="1" height="28" fill="#ff0000"/>
<rect x="595" y="315" width="5" height="17" fill="#ff0000"/>
<rect x="596" y="316" width="3" height="15" fill="#ff4500"/>
<rect x="605" y="298" width="1" height="45" fill="#ff0000"/>
<rect x="603" y="319" width="5" height="14" fill="#ff0000"/>
<rect x="604" y="320" width="3" height="12" fill="#ff4500"/>
<rect x="613" y="315" width="1" height="51" fill="#32cd32"/>
<rect x="611" y="319" width="5" height="42" fill="#32cd32"/>
<rect x="621" y="278" width="1" height="96" fill="#ff0000"/>
<rect x="619" y="288" width="5" height="73" fill="#ff0000"/>
<rect x="620" y="289" width="3" height="71" fill="#ff4500"/>
<rect x="629" y="253" width="1" height="73" fill="#ff0000"/>
<rect x="627" y="279" width="5" height="11" fill="#ff0000"/>
<rect x="628" y="280" width="3" height="9" fill="#ff4500"/>
<rect x="637" y="265" width="1" height="54" fill="#32cd32"/>
<rect x="635" y="279" width="5" height="36" fill="#32cd32"/>
<rect x="645" y="303" width="1" height="17" fill="#ff0000"/>
<rect x="643" y="308" width="5" height="7" fill="#ff0000"/>
<rect x="644" y="309" width="3" height="5" fill="#ff4500"/>
<rect x="653" y="302" width="1" height="80" fill="#32cd32"/>
<rect x="651" y="305" width="5" height="51" fill="#32cd32"/>
<rect x="661" y="336" width="1" height="46" fill="#32cd32"/>
<rect x="659" y="355" width="5" height="2" fill="#32cd32"/>
<rect x="669" y="350" width="1" height="86" fill="#32cd32"/>
<rect x="667" y="355" width="5" height="45" fill="#32cd32"/>
<rect x="677" y="358" width="1" height="94" fill="#ff0000"/>
<rect x="675" y="368" width="5" height="32" fill="#ff0000"/>
<rect x="676" y="369" width="3" height="30" fill="#ff4500"/>
<rect x="685" y="316" width="1" height="54" fill="#ff0000"/>
<rect x="683" y="343" width="5" height="26" fill="#ff0000"/>
<rect x="684" y="344" width="3" height="24" fill="#ff4500"/>
<rect x="693" y="326" width="1" height="23" fill="#ff0000"/>
<rect x="691" y="327" width="5" height="17" fill="#ff0000"/>
<rect x="692" y="328" width="3" height="15" fill="#ff4500"/>
<rect x="701" y="326" width="1" height="42" fill="#32cd32"/>
<rect x="699" y="338" width="5" height="22" fill="#32cd32"/>
<rect x="709" y="302" width="1" height="69" fill="#ff0000"/>
<rect x="707" y="312" width="5" height="48" fill="#ff0000"/>
<rect x="708" y="313" width="3" height="46" fill="#ff4500"/>
<rect x="717" y="263" width="1" height="51" fill="#ff0000"/>
<rect x="715" y="269" width="5" height="44" fill="#ff0000"/>
<rect x="716" y="270" width="3" height="42" fill="#ff4500"/>
<rect x="725" y="221" width="1" height="63" fill="#ff0000"/>
<rect x="723" y="230" width="5" height="40" fill="#ff0000"/>
<rect x="724" y="231" width="3" height="38" fill="#ff4500"/>
<rect x="733" y="217" width="1" height="26" fill="#ff0000"/>
<rect x="731" y="220" width="5" height="11" fill="#ff0000"/>
<rect x="732" y="221" width="3" height="9" fill="#ff4500"/>
<rect x="741" y="216" width="1" height="10" fill="#32cd32"/>
<rect x="739" y="220" width="5" height="4" fill="#32cd32"/>
<rect x="749" y="187" width="1" height="42" fill="#ff0000"/>
<rect x="747" y="199" width="5" height="28" fill="#ff0000"/>
<rect x="748" y="200" width="3" height="26" fill="#ff4500"/>
<rect x="757" y="190" width="1" height="25" fill="#32cd32"/>
<rect x="755" y="199" width="5" height="1" fill="#32cd32"/>
<rect x="765" y="187" width="1" height="33" fill="#32cd32"/>
<rect x="763" y="199" width="5" height="19" fill="#32cd32"/>
<rect x="773" y="208" width="1" height="32" fill="#32cd32"/>
<rect x="771" y="218" width="5" height="10" fill="#32cd32"/>
<rect x="781" y="199" width="1" height="44" fill="#32cd32"/>
<rect x="779" y="226" width="5" height="17" fill="#32cd32"/>
<rect x="789" y="237" width="1" height="16" fill="#32cd32"/>
<rect x="787" y="242" width="5" height="4" fill="#32cd32"/>
<rect x="797" y="241" width="1" height="24" fill="#32cd32"/>
<rect x="795" y="244" width="5" height="18" fill="#32cd32"/>
<rect x="805" y="220" width="1" height="49" fill="#ff0000"/>
<rect x="803" y="226" width="5" height="36" fill="#ff0000"/>
<rect x="804" y="227" width="3" height="34" fill="#ff4500"/>
<rect x="813" y="182" width="1" height="52" fill="#ff0000"/>
<rect x="811" y="194" width="5" height="33" fill="#ff0000"/>
<rect x="812" y="195" width="3" height="31" fill="#ff4500"/>
<rect x="821" y="183" width="1" height="83" fill="#32cd32"/>
<rect x="819" y="194" width="5" height="62" fill="#32cd32"/>
<rect x="829" y="212" width="1" height="44" fill="#ff0000"/>
<rect x="827" y="234" width="5" height="22" fill="#ff0000"/>
<rect x="828" y="235" width="3" height="20" fill="#ff4500"/>
<rect x="837" y="223" width="1" height="23" fill="#ff0000"/>
<rect x="835" y="223" width="5" height="12" fill="#ff0000"/>
<rect x="836" y="224" width="3" height="10" fill="#ff4500"/>
<rect x="845" y="182" width="1" height="43" fill="#ff0000"/>
<rect x="843" y="200" width="5" height="25" fill="#ff0000"/>
<rect x="844" y="201" width="3" height="23" fill="#ff4500"/>
<rect x="853" y="156" width="1" height="48" fill="#ff0000"/>
<rect x="851" y="175" width="5" height="26" fill="#ff0000"/>
<rect x="852" y="176" width="3" height="24" fill="#ff4500"/>
<rect x="861" y="163" width="1" height="28" fill="#ff0000"/>
<rect x="859" y="168" width="5" height="8" fill="#ff0000"/>
<rect x="860" y="169" width="3" height="6" fill="#ff4500"/>
<rect x="869" y="149" width="1" height="25" fill="#000"/>
<rect x="867" y="168" width="5" height="1" fill="#000"/>
<rect x="877" y="150" width="1" height="31" fill="#32cd32"/>
<rect x="875" y="168" width="5" height="5" fill="#32cd32"/>
<rect x="885" y="168" width="1" height="13" fill="#32cd32"/>
<rect x="883" y="172" width="5" height="5" fill="#32cd32"/>
<rect x="893" y="125" width="1" height="61" fill="#ff0000"/>
<rect x="891" y="136" width="5" height="49" fill="#ff0000"/>
<rect x="892" y="137" width="3" height="47" fill="#ff4500"/>
<rect x="901" y="87" width="1" height="55" fill="#ff0000"/>
<rect x="899" y="107" width="5" height="30" fill="#ff0000"/>
<rect x="900" y="108" width="3" height="28" fill="#ff4500"/>
<rect x="909" y="104" width="1" height="19" fill="#32cd32"/>
<rect x="907" y="107" width="5" height="14" fill="#32cd32"/>
<rect x="277" y="52" width="741" height="2" fill="#ff2020"/>
<rect x="728" y="146" width="271" height="2" fill="#90c400"/>
<rect x="739" y="186" width="265" height="2" fill="#2389e0"/>
</g>
<g clip-path="url(#c2)">
<rect x="5" y="482" width="1" height="18" fill="#c0c0c0"/>
<rect x="13" y="479" width="1" height="21" fill="#c0c0c0"/>
<rect x="21" y="477" width="1" height="23" fill="#c0c0c0"/>
<rect x="29" y="475" width="1" height="25" fill="#c0c0c0"/>
<rect x="37" y="474" width="1" height="26" fill="#c0c0c0"/>
<rect x="45" y="473" width="1" height="27" fill="#c0c0c0"/>
<rect x="53" y="473" width="1" height="27" fill="#c0c0c0"/>
<rect x="61" y="473" width="1" height="27" fill="#c0c0c0"/>
<rect x="69" y="474" width="1" height="26" fill="#c0c0c0"/>
<rect x="77" y="475" width="1" height="25" fill="#c0c0c0"/>
<rect x="85" y="476" width="1" height="24" fill="#c0c0c0"/>
<rect x="93" y="476" width="1" height="24" fill="#c0c0c0"/>
<rect x="101" y="475" width="1" height="25" fill="#c0c0c0"/>
<rect x="109" y="474" width="1" height="26" fill="#c0c0c0"/>
<rect x="117" y="474" width="1" height="26" fill="#c0c0c0"/>
<rect x="125" y="474" width="1" height="26" fill="#c0c0c0"/>
<rect x="133" y="474" width="1" height="26" fill="#c0c0c0"/>
<rect x="141" y="474" width="1" height="26" fill="#c0c0c0"/>
<rect x="149" y="473" width="1" height="27" fill="#c0c0c0"/>
<rect x="157" y="474" width="1" height="26" fill="#c0c0c0"/>
<rect x="165" y="474" width="1" height="26" fill="#c0c0c0"/>
<rect x="173" y="473" width="1" height="27" fill="#c0c0c0"/>
<rect x="181" y="472" width="1" height="28" fill="#c0c0c0"/>
<rect x="189" y="470" width="1" height="30" fill="#c0c0c0"/>
<rect x="197" y="470" width="1" height="30" fill="#c0c0c0"/>
<rect x="205" y="471" width="1" height="29" fill="#c0c0c0"/>
<rect x="213" y="471" width="1" height="29" fill="#c0c0c0"/>
<rect x="221" y="472" width="1" height="28" fill="#c0c0c0"/>
<rect x="229" y="472" width="1" height="28" fill="#c0c0c0"/>
<rect x="237" y="475" width="1" height="25" fill="#c0c0c0"/>
<rect x="245" y="477" width="1" height="23" fill="#c0c0c0"/>
<rect x="253" y="477" width="1" height="23" fill="#c0c0c0"/>
<rect x="261" y="477" width="1" height="23" fill="#c0c0c0"/>
<rect x="269" y="476" width="1" height="24" fill="#c0c0c0"/>
<rect x="277" y="475" width="1" height="25" fill="#c0c0c0"/>
<rect x="285" y="476" width="1" height="24" fill="#c0c0c0"/>
<rect x="293" y="477" width="1" height="23" fill="#c0c0c0"/>
<rect x="301" y="480" width="1" height="20" fill="#c0c0c0"/>
<rect x="309" y="484" width="1" height="16" fill="#c0c0c0"/>
<rect x="317" y="489" width="1" height="11" fill="#c0c0c0"/>
<rect x="325" y="494" width="1" height="6" fill="#c0c0c0"/>
<rect x="333" y="497" width="1" height="3" fill="#c0c0c0"/>
<rect x="341" y="499" width="1" height="1" fill="#c0c0c0"/>
<rect x="349" y="499" width="1" height="1" fill="#c0c0c0"/>
<rect x="357" y="499" width="1" height="1" fill="#c0c0c0"/>
<rect x="365" y="499" width="1" height="1" fill="#c0c0c0"/>
<rect x="373" y="499" width="1" height="1" fill="#c0c0c0"/>
<rect x="381" y="499" width="1" height="1" fill="#c0c0c0"/>
<rect x="389" y="499" width="1" height="2" fill="#c0c0c0"/>
<rect x="397" y="499" width="1" height="2" fill="#c0c0c0"/>
<rect x="405" y="499" width="1" height="2" fill="#c0c0c0"/>
<rect x="413" y="499" width="1" height="2" fill="#c0c0c0"/>
<rect x="421" y="499" width="1" height="2" fill="#c0c0c0"/>
<rect x="429" y="499" width="1" height="3" fill="#c0c0c0"/>
<rect x="437" y="499" width="1" height="4" fill="#c0c0c0"/>
<rect x="445" y="499" width="1" height="7" fill="#c0c0c0"/>
<rect x="453" y="499" width="1" height="10" fill="#c0c0c0"/>
<rect x="461" y="499" width="1" height="12" fill="#c0c0c0"/>
<rect x="469" y="499" width="1" height="12" fill="#c0c0c0"/>
<rect x="477" y="499" width="1" height="12" fill="#c0c0c0"/>
<rect x="485" y="499" width="1" height="10" fill="#c0c0c0"/>
<rect x="493" y="499" width="1" height="8" fill="#c0c0c0"/>
<rect x="501" y="499" width="1" height="7" fill="#c0c0c0"/>
<rect x="509" y="499" width="1" height="7" fill="#c0c0c0"/>
<rect x="517" y="499" width="1" height="7" fill="#c0c0c0"/>
<rect x="525" y="499" width="1" height="7" fill="#c0c0c0"/>
<rect x="533" y="499" width="1" height="7" fill="#c0c0c0"/>
<rect x="541" y="499" width="1" height="7" fill="#c0c0c0"/>
<rect x="549" y="499" width="1" height="7" fill="#c0c0c0"/>
<rect x="557" y="499" width="1" height="7" fill="#c0c0c0"/>
<rect x="565" y="499" width="1" height="11" fill="#c0c0c0"/>
<rect x="573" y="499" width="1" height="11" fill="#c0c0c0"/>
<rect x="581" y="499" width="1" height="9" fill="#c0c0c0"/>
<rect x="589" y="499" width="1" height="14" fill="#c0c0c0"/>
<rect x="597" y="499" width="1" height="15" fill="#c0c0c0"/>
<rect x="605" y="499" width="1" height="16" fill="#c0c0c0"/>
<rect x="613" y="499" width="1" height="18" fill="#c0c0c0"/>
<rect x="621" y="499" width="1" height="16" fill="#c0c0c0"/>
<rect x="629" y="499" width="1" height="15" fill="#c0c0c0"/>
<rect x="637" y="499" width="1" height="14" fill="#c0c0c0"/>
<rect x="645" y="499" width="1" height="15" fill="#c0c0c0"/>
<rect x="653" y="499" width="1" height="15" fill="#c0c0c0"/>
<rect x="661" y="499" width="1" height="17" fill="#c0c0c0"/>
<rect x="669" y="499" width="1" height="19" fill="#c0c0c0"/>
<rect x="677" y="499" width="1" height="20" fill="#c0c0c0"/>
<rect x="685" y="499" width="1" height="19" fill="#c0c0c0"/>
<rect x="693" y="499" width="1" height="17" fill="#c0c0c0"/>
<rect x="701" y="499" width="1" height="17" fill="#c0c0c0"/>
<rect x="709" y="499" width="1" height="15" fill="#c0c0c0"/>
<rect x="717" y="499" width="1" height="11" fill="#c0c0c0"/>
<rect x="725" y="499" width="1" height="5" fill="#c0c0c0"/>
<rect x="733" y="499" width="1" height="1" fill="#c0c0c0"/>
<rect x="741" y="497" width="1" height="3" fill="#c0c0c0"/>
<rect x="749" y="494" width="1" height="6" fill="#c0c0c0"/>
<rect x="757" y="491" width="1" height="9" fill="#c0c0c0"/>
<rect x="765" y="490" width="1" height="10" fill="#c0c0c0"/>
<rect x="773" y="489" width="1" height="11" fill="#c0c0c0"/>
<rect x="781" y="490" width="1" height="10" fill="#c0c0c0"/>
<rect x="789" y="490" width="1" height="10" fill="#c0c0c0"/>
<rect x="797" y="492" width="1" height="8" fill="#c0c0c0"/>
<rect x="805" y="491" width="1" height="9" fill="#c0c0c0"/>
<rect x="813" y="489" width="1" height="11" fill="#c0c0c0"/>
<rect x="821" y="491" width="1" height="9" fill="#c0c0c0"/>
<rect x="829" y="491" width="1" height="9" fill="#c0c0c0"/>
<rect x="837" y="491" width="1" height="9" fill="#c0c0c0"/>
<rect x="845" y="490" width="1" height="10" fill="#c0c0c0"/>
<rect x="853" y="488" width="1" height="12" fill="#c0c0c0"/>
<rect x="861" y="487" width="1" height="13" fill="#c0c0c0"/>
<rect x="869" y="485" width="1" height="15" fill="#c0c0c0"/>
<rect x="877" y="485" width="1" height="15" fill="#c0c0c0"/>
<rect x="885" y="485" width="1" height="15" fill="#c0c0c0"/>
<rect x="893" y="483" width="1" height="17" fill="#c0c0c0"/>
<rect x="901" y="481" width="1" height="19" fill="#c0c0c0"/>
<rect x="909" y="479" width="1" height="21" fill="#c0c0c0"/>
<path d="M227 470h3v1h-3zM73 471h1v1h-1zM77 471h3v1h-3zM83 471h3v1h-3zM89 471h3v1h-3zM95 471h3v1h-3zM101 471h3v1h-3zM107 471h3v1h-3zM113 471h3v1h-3zM119 471h3v1h-3zM125 471h3v1h-3zM131 471h3v1h-3zM137 471h3v1h-3zM143 471h3v1h-3zM149 471h3v1h-3zM155 471h3v1h-3zM161 471h3v1h-3zM167 471h3v1h-3zM192 471h2v1h-2zM197 471h3v1h-3zM203 471h3v1h-3zM209 471h3v1h-3zM215 471h3v1h-3zM221 471h3v1h-3zM233 471h3v1h-3zM239 471h3v1h-3zM65 472h3v1h-3zM71 472h2v1h-2zM173 472h3v1h-3zM179 472h3v1h-3zM185 472h3v1h-3zM191 472h1v1h-1zM245 472h3v1h-3zM251 472h3v1h-3zM257 472h3v1h-3zM263 472h3v1h-3zM61 473h1v1h-1zM269 473h3v1h-3zM59 474h2v1h-2zM275 474h3v1h-3zM281 474h3v1h-3zM54 475h2v1h-2zM287 475h3v1h-3zM293 475h3v1h-3zM53 476h1v1h-1zM299 476h3v1h-3zM305 476h3v1h-3zM311 477h3v1h-3zM48 478h2v1h-2zM317 478h2v1h-2zM47 479h1v1h-1zM319 479h1v1h-1zM323 480h3v1h-3zM41 481h3v1h-3zM329 481h1v1h-1zM330 482h2v1h-2zM37 483h1v1h-1zM335 483h3v1h-3zM35 484h2v1h-2zM341 484h2v1h-2zM905 484h3v1h-3zM343 485h1v1h-1zM899 485h3v1h-3zM31 486h1v1h-1zM893 486h3v1h-3zM30 487h1v1h-1zM347 487h3v1h-3zM881 487h3v1h-3zM887 487h3v1h-3zM29 488h1v1h-1zM869 488h3v1h-3zM875 488h3v1h-3zM353 489h1v1h-1zM817 489h1v1h-1zM821 489h3v1h-3zM827 489h3v1h-3zM833 489h3v1h-3zM839 489h3v1h-3zM851 489h3v1h-3zM857 489h3v1h-3zM863 489h3v1h-3zM354 490h2v1h-2zM803 490h3v1h-3zM809 490h3v1h-3zM815 490h2v1h-2zM845 490h3v1h-3zM25 491h1v1h-1zM797 491h3v1h-3zM24 492h1v1h-1zM359 492h3v1h-3zM791 492h3v1h-3zM23 493h1v1h-1zM365 493h2v1h-2zM785 493h3v1h-3zM367 494h1v1h-1zM781 494h1v1h-1zM19 495h1v1h-1zM779 495h2v1h-2zM18 496h1v1h-1zM371 496h3v1h-3zM17 497h1v1h-1zM377 497h3v1h-3zM775 497h1v1h-1zM383 498h3v1h-3zM773 498h2v1h-2zM13 499h1v1h-1zM389 499h3v1h-3zM395 499h3v1h-3zM12 500h1v1h-1zM401 500h3v1h-3zM407 500h3v1h-3zM413 500h3v1h-3zM419 500h3v1h-3zM425 500h3v1h-3zM431 500h3v1h-3zM767 500h3v1h-3zM11 501h1v1h-1zM437 501h3v1h-3zM443 501h3v1h-3zM449 502h3v1h-3zM455 502h3v1h-3zM761 502h3v1h-3zM461 503h3v1h-3zM757 503h1v1h-1zM6 504h2v1h-2zM755 504h2v1h-2zM5 505h1v1h-1zM467 505h3v1h-3zM473 506h3v1h-3zM479 506h3v1h-3zM557 506h3v1h-3zM750 506h2v1h-2zM485 507h3v1h-3zM545 507h3v1h-3zM551 507h3v1h-3zM563 507h3v1h-3zM569 507h3v1h-3zM575 507h3v1h-3zM749 507h1v1h-1zM491 508h3v1h-3zM497 508h3v1h-3zM503 508h3v1h-3zM521 508h3v1h-3zM527 508h3v1h-3zM533 508h3v1h-3zM539 508h3v1h-3zM581 508h3v1h-3zM587 508h3v1h-3zM509 509h3v1h-3zM515 509h3v1h-3zM593 509h3v1h-3zM599 509h3v1h-3zM743 509h3v1h-3zM605 510h3v1h-3zM611 511h3v1h-3zM737 511h3v1h-3zM617 512h3v1h-3zM623 512h1v1h-1zM624 513h2v1h-2zM629 513h3v1h-3zM635 513h3v1h-3zM731 513h3v1h-3zM641 514h3v1h-3zM647 514h3v1h-3zM653 514h3v1h-3zM659 515h3v1h-3zM665 515h3v1h-3zM671 515h3v1h-3zM721 515h1v1h-1zM725 515h3v1h-3zM677 516h3v1h-3zM683 516h3v1h-3zM689 516h3v1h-3zM695 516h3v1h-3zM701 516h3v1h-3zM707 516h3v1h-3zM713 516h3v1h-3zM719 516h2v1h-2z" fill="#ff0000"/>
</g>
<g clip-path="url(#c3)">
<rect x="6" y="551" width="3" height="1" fill="#c0c0c0"/>
<rect x="12" y="551" width="3" height="1" fill="#c0c0c0"/>
<rect x="18" y="551" width="3" height="1" fill="#c0c0c0"/>
<rect x="24" y="551" width="3" height="1" fill="#c0c0c0"/>
<rect x="30" y="551" width="3" height="1" fill="#c0c0c0"/>
<rect x="36" y="551" width="3" height="1" fill="#c0c0c0"/>
<rect x="42" y="551" width="3" height="1" fill="#c0c0c0"/>
<rect x="48" y="551" width="3" height="1" fill="#c0c0c0"/>
<rect x="54" y="551" width="3" height="1" fill="#c0c0c0"/>
<rect x="60" y="551" width="3" height="1" fill="#c0c0c0"/>
<rect x="66" y="551" width="3" height="1" fill="#c0c0c0"/>
<rect x="72" y="551" width="3" height="1" fill="#c0c0c0"/>
<rect x="78" y="551" width="3" height="1" fill="#c0c0c0"/>
<rect x="84" y="551" width="3" height="1" fill="#c0c0c0"/>
<rect x="90" y="551" width="3" height="1" fill="#c0c0c0"/>
<rect x="96" y="551" width="3" height="1" fill="#c0c0c0"/>
<rect x="102" y="551" width="3" height="1" fill="#c0c0c0"/>
<rect x="108" y="551" width="3" height="1" fill="#c0c0c0"/>
<rect x="114" y="551" width="3" height="1" fill="#c0c0c0"/>
<rect x="120" y="551" width="3" height="1" fill="#c0c0c0"/>
<rect x="126" y="551" width="3" height="1" fill="#c0c0c0"/>
<rect x="132" y="551" width="3" height="1" fill="#c0c0c0"/>
<rect x="138" y="551" width="3" height="1" fill="#c0c0c0"/>
<rect x="144" y="551" width="3" height="1" fill="#c0c0c0"/>
<rect x="150" y="551" width="3" height="1" fill="#c0c0c0"/>
<rect x="156" y="551" width="3" height="1" fill="#c0c0c0"/>
<rect x="162" y="551" width="3" height="1" fill="#c0c0c0"/>
<rect x="168" y="551" width="3" height="1" fill="#c0c0c0"/>
<rect x="174" y="551" width="3" height="1" fill="#c0c0c0"/>
<rect x="180" y="551" width="3" height="1" fill="#c0c0c0"/>
<rect x="186" y="551" width="3" height="1" fill="#c0c0c0"/>
<rect x="192" y="551" width="3" height="1" fill="#c0c0c0"/>
<rect x="198" y="551" width="3" height="1" fill="#c0c0c0"/>
<rect x="204" y="551" width="3" height="1" fill="#c0c0c0"/>
<rect x="210" y="551" width="3" height="1" fill="#c0c0c0"/>
<rect x="216" y="551" width="3" height="1" fill="#c0c0c0"/>
<rect x="222" y="551" width="3" height="1" fill="#c0c0c0"/>
<rect x="228" y="551" width="3" height="1" fill="#c0c0c0"/>
<rect x="234" y="551" width="3" height="1" fill="#c0c0c0"/>
<rect x="240" y="551" width="3" height="1" fill="#c0c0c0"/>
<rect x="246" y="551" width="3" height="1" fill="#c0c0c0"/>
<rect x="252" y="551" width="3" height="1" fill="#c0c0c0"/>
<rect x="258" y="551" width="3" height="1" fill="#c0c0c0"/>
<rect x="264" y="551" width="3" height="1" fill="#c0c0c0"/>
<rect x="270" y="551" width="3" height="1" fill="#c0c0c0"/>
<rect x="276" y="551" width="3" height="1" fill="#c0c0c0"/>
<rect x="282" y="551" width="3" height="1" fill="#c0c0c0"/>
<rect x="288" y="551" width="3" height="1" fill="#c0c0c0"/>
<rect x="294" y="551" width="3" height="1" fill="#c0c0c0"/>
<rect x="300" y="551" width="3" height="1" fill="#c0c0c0"/>
<rect x="306" y="551" width="3" height="1" fill="#c0c0c0"/>
<rect x="312" y="551" width="3" height="1" fill="#c0c0c0"/>
<rect x="318" y="551" width="3" height="1" fill="#c0c0c0"/>
<rect x="324" y="551" width="3" height="1" fill="#c0c0c0"/>
<rect x="330" y="551" width="3" height="1" fill="#c0c0c0"/>
<rect x="336" y="551" width="3" height="1" fill="#c0c0c0"/>
<rect x="342" y="551" width="3" height="1" fill="#c0c0c0"/>
<rect x="348" y="551" width="3" height="1" fill="#c0c0c0"/>
<rect x="354" y="551" width="3" height="1" fill="#c0c0c0"/>
<rect x="360" y="551" width="3" height="1" fill="#c0c0c0"/>
<rect x="366" y="551" width="3" height="1" fill="#c0c0c0"/>
<rect x="372" y="551" width="3" height="1" fill="#c0c0c0"/>
<rect x="378" y="551" width="3" height="1" fill="#c0c0c0"/>
<rect x="384" y="551" width="3" height="1" fill="#c0c0c0"/>
<rect x="390" y="551" width="3" height="1" fill="#c0c0c0"/>
<rect x="396" y="551" width="3" height="1" fill="#c0c0c0"/>
<rect x="402" y="551" width="3" height="1" fill="#c0c0c0"/>
<rect x="408" y="551" width="3" height="1" fill="#c0c0c0"/>
<rect x="414" y="551" width="3" height="1" fill="#c0c0c0"/>
<rect x="420" y="551" width="3" height="1" fill="#c0c0c0"/>
<rect x="426" y="551" width="3" height="1" fill="#c0c0c0"/>
<rect x="432" y="551" width="3" height="1" fill="#c0c0c0"/>
<rect x="438" y="551" width="3" height="1" fill="#c0c0c0"/>
<rect x="444" y="551" width="3" height="1" fill="#c0c0c0"/>
<rect x="450" y="551" width="3" height="1" fill="#c0c0c0"/>
<rect x="456" y="551" width="3" height="1" fill="#c0c0c0"/>
<rect x="462" y="551" width="3" height="1" fill="#c0c0c0"/>
<rect x="468" y="551" width="3" height="1" fill="#c0c0c0"/>
<rect x="474" y="551" width="3" height="1" fill="#c0c0c0"/>
<rect x="480" y="551" width="3" height="1" fill="#c0c0c0"/>
<rect x="486" y="551" width="3" height="1" fill="#c0c0c0"/>
<rect x="492" y="551" width="3" height="1" fill="#c0c0c0"/>
<rect x="498" y="551" width="3" height="1" fill="#c0c0c0"/>
<rect x="504" y="551" width="3" height="1" fill="#c0c0c0"/>
<rect x="510" y="551" width="3" height="1" fill="#c0c0c0"/>
<rect x="516" y="551" width="3" height="1" fill="#c0c0c0"/>
<rect x="522" y="551" width="3" height="1" fill="#c0c0c0"/>
<rect x="528" y="551" width="3" height="1" fill="#c0c0c0"/>
<rect x="534" y="551" width="3" height="1" fill="#c0c0c0"/>
<rect x="540" y="551" width="3" height="1" fill="#c0c0c0"/>
<rect x="546" y="551" width="3" height="1" fill="#c0c0c0"/>
<rect x="552" y="551" width="3" height="1" fill="#c0c0c0"/>
<rect x="558" y="551" width="3" height="1" fill="#c0c0c0"/>
<rect x="564" y="551" width="3" height="1" fill="#c0c0c0"/>
<rect x="570" y="551" width="3" height="1" fill="#c0c0c0"/>
<rect x="576" y="551" width="3" height="1" fill="#c0c0c0"/>
<rect x="582" y="551" width="3" height="1" fill="#c0c0c0"/>
<rect x="588" y="551" width="3" height="1" fill="#c0c0c0"/>
<rect x="594" y="551" width="3" height="1" fill="#c0c0c0"/>
<rect x="600" y="551" width="3" height="1" fill="#c0c0c0"/>
<rect x="606" y="551" width="3" height="1" fill="#c0c0c0"/>
<rect x="612" y="551" width="3" height="1" fill="#c0c0c0"/>
<rect x="618" y="551" width="3" height="1" fill="#c0c0c0"/>
<rect x="624" y="551" width="3" height="1" fill="#c0c0c0"/>
<rect x="630" y="551" width="3" height="1" fill="#c0c0c0"/>
<rect x="636" y="551" width="3" height="1" fill="#c0c0c0"/>
<rect x="642" y="551" width="3" height="1" fill="#c0c0c0"/>
<rect x="648" y="551" width="3" height="1" fill="#c0c0c0"/>
<rect x="654" y="551" width="3" height="1" fill="#c0c0c0"/>
<rect x="660" y="551" width="3" height="1" fill="#c0c0c0"/>
<rect x="666" y="551" width="3" height="1" fill="#c0c0c0"/>
<rect x="672" y="551" width="3" height="1" fill="#c0c0c0"/>
<rect x="678" y="551" width="3" height="1" fill="#c0c0c0"/>
<rect x="684" y="551" width="3" height="1" fill="#c0c0c0"/>
<rect x="690" y="551" width="3" height="1" fill="#c0c0c0"/>
<rect x="696" y="551" width="3" height="1" fill="#c0c0c0"/>
<rect x="702" y="551" width="3" height="1" fill="#c0c0c0"/>
<rect x="708" y="551" width="3" height="1" fill="#c0c0c0"/>
<rect x="714" y="551" width="3" height="1" fill="#c0c0c0"/>
<rect x="720" y="551" width="3" height="1" fill="#c0c0c0"/>
<rect x="726" y="551" width="3" height="1" fill="#c0c0c0"/>
<rect x="732" y="551" width="3" height="1" fill="#c0c0c0"/>
<rect x="738" y="551" width="3" height="1" fill="#c0c0c0"/>
<rect x="744" y="551" width="3" height="1" fill="#c0c0c0"/>
<rect x="750" y="551" width="3" height="1" fill="#c0c0c0"/>
<rect x="756" y="551" width="3" height="1" fill="#c0c0c0"/>
<rect x="762" y="551" width="3" height="1" fill="#c0c0c0"/>
<rect x="768" y="551" width="3" height="1" fill="#c0c0c0"/>
<rect x="774" y="551" width="3" height="1" fill="#c0c0c0"/>
<rect x="780" y="551" width="3" height="1" fill="#c0c0c0"/>
<rect x="786" y="551" width="3" height="1" fill="#c0c0c0"/>
<rect x="792" y="551" width="3" height="1" fill="#c0c0c0"/>
<rect x="798" y="551" width="3" height="1" fill="#c0c0c0"/>
<rect x="804" y="551" width="3" height="1" fill="#c0c0c0"/>
<rect x="810" y="551" width="3" height="1" fill="#c0c0c0"/>
<rect x="816" y="551" width="3" height="1" fill="#c0c0c0"/>
<rect x="822" y="551" width="3" height="1" fill="#c0c0c0"/>
<rect x="828" y="551" width="3" height="1" fill="#c0c0c0"/>
<rect x="834" y="551" width="3" height="1" fill="#c0c0c0"/>
<rect x="840" y="551" width="3" height="1" fill="#c0c0c0"/>
<rect x="846" y="551" width="3" height="1" fill="#c0c0c0"/>
<rect x="852" y="551" width="3" height="1" fill="#c0c0c0"/>
<rect x="858" y="551" width="3" height="1" fill="#c0c0c0"/>
<rect x="864" y="551" width="3" height="1" fill="#c0c0c0"/>
<rect x="870" y="551" width="3" height="1" fill="#c0c0c0"/>
<rect x="876" y="551" width="3" height="1" fill="#c0c0c0"/>
<rect x="882" y="551" width="3" height="1" fill="#c0c0c0"/>
<rect x="888" y="551" width="3" height="1" fill="#c0c0c0"/>
<rect x="894" y="551" width="3" height="1" fill="#c0c0c0"/>
<rect x="900" y="551" width="3" height="1" fill="#c0c0c0"/>
<rect x="906" y="551" width="3" height="1" fill="#c0c0c0"/>
<rect x="912" y="551" width="3" height="1" fill="#c0c0c0"/>
<rect x="918" y="551" width="3" height="1" fill="#c0c0c0"/>
<rect x="924" y="551" width="3" height="1" fill="#c0c0c0"/>
<rect x="930" y="551" width="3" height="1" fill="#c0c0c0"/>
<rect x="936" y="551" width="3" height="1" fill="#c0c0c0"/>
<rect x="942" y="551" width="3" height="1" fill="#c0c0c0"/>
<rect x="948" y="551" width="3" height="1" fill="#c0c0c0"/>
<rect x="954" y="551" width="3" height="1" fill="#c0c0c0"/>
<rect x="960" y="551" width="3" height="1" fill="#c0c0c0"/>
<rect x="966" y="551" width="3" height="1" fill="#c0c0c0"/>
<rect x="972" y="551" width="3" height="1" fill="#c0c0c0"/>
<rect x="978" y="551" width="3" height="1" fill="#c0c0c0"/>
<rect x="984" y="551" width="3" height="1" fill="#c0c0c0"/>
<rect x="990" y="551" width="3" height="1" fill="#c0c0c0"/>
<rect x="996" y="551" width="3" height="1" fill="#c0c0c0"/>
<rect x="1002" y="551" width="3" height="1" fill="#c0c0c0"/>
<rect x="1008" y="551" width="3" height="1" fill="#c0c0c0"/>
<rect x="1014" y="551" width="3" height="1" fill="#c0c0c0"/>
<rect x="1020" y="551" width="3" height="1" fill="#c0c0c0"/>
<rect x="1026" y="551" width="3" height="1" fill="#c0c0c0"/>
<rect x="1032" y="551" width="3" height="1" fill="#c0c0c0"/>
<rect x="1038" y="551" width="3" height="1" fill="#c0c0c0"/>
<rect x="1044" y="551" width="3" height="1" fill="#c0c0c0"/>
<rect x="1050" y="551" width="3" height="1" fill="#c0c0c0"/>
<rect x="1056" y="551" width="3" height="1" fill="#c0c0c0"/>
<rect x="1062" y="551" width="3" height="1" fill="#c0c0c0"/>
<rect x="1068" y="551" width="3" height="1" fill="#c0c0c0"/>
<rect x="1074" y="551" width="3" height="1" fill="#c0c0c0"/>
<rect x="1080" y="551" width="3" height="1" fill="#c0c0c0"/>
<rect x="1086" y="551" width="3" height="1" fill="#c0c0c0"/>
<rect x="1092" y="551" width="3" height="1" fill="#c0c0c0"/>
<rect x="1098" y="551" width="3" height="1" fill="#c0c0c0"/>
<rect x="1104" y="551" width="3" height="1" fill="#c0c0c0"/>
<rect x="1110" y="551" width="3" height="1" fill="#c0c0c0"/>
<rect x="1116" y="551" width="3" height="1" fill="#c0c0c0"/>
<rect x="1122" y="551" width="3" height="1" fill="#c0c0c0"/>
<rect x="1128" y="551" width="3" height="1" fill="#c0c0c0"/>
<rect x="1134" y="551" width="3" height="1" fill="#c0c0c0"/>
<rect x="1140" y="551" width="3" height="1" fill="#c0c0c0"/>
<rect x="1146" y="551" width="3" height="1" fill="#c0c0c0"/>
<rect x="1152" y="551" width="3" height="1" fill="#c0c0c0"/>
<rect x="6" y="586" width="3" height="1" fill="#c0c0c0"/>
<rect x="12" y="586" width="3" height="1" fill="#c0c0c0"/>
<rect x="18" y="586" width="3" height="1" fill="#c0c0c0"/>
<rect x="24" y="586" width="3" height="1" fill="#c0c0c0"/>
<rect x="30" y="586" width="3" height="1" fill="#c0c0c0"/>
<rect x="36" y="586" width="3" height="1" fill="#c0c0c0"/>
<rect x="42" y="586" width="3" height="1" fill="#c0c0c0"/>
<rect x="48" y="586" width="3" height="1" fill="#c0c0c0"/>
<rect x="54" y="586" width="3" height="1" fill="#c0c0c0"/>
<rect x="60" y="586" width="3" height="1" fill="#c0c0c0"/>
<rect x="66" y="586" width="3" height="1" fill="#c0c0c0"/>
<rect x="72" y="586" width="3" height="1" fill="#c0c0c0"/>
<rect x="78" y="586" width="3" height="1" fill="#c0c0c0"/>
<rect x="84" y="586" width="3" height="1" fill="#c0c0c0"/>
<rect x="90" y="586" width="3" height="1" fill="#c0c0c0"/>
<rect x="96" y="586" width="3" height="1" fill="#c0c0c0"/>
<rect x="102" y="586" width="3" height="1" fill="#c0c0c0"/>
<rect x="108" y="586" width="3" height="1" fill="#c0c0c0"/>
<rect x="114" y="586" width="3" height="1" fill="#c0c0c0"/>
<rect x="120" y="586" width="3" height="1" fill="#c0c0c0"/>
<rect x="126" y="586" width="3" height="1" fill="#c0c0c0"/>
<rect x="132" y="586" width="3" height="1" fill="#c0c0c0"/>
<rect x="138" y="586" width="3" height="1" fill="#c0c0c0"/>
<rect x="144" y="586" width="3" height="1" fill="#c0c0c0"/>
<rect x="150" y="586" width="3" height="1" fill="#c0c0c0"/>
<rect x="156" y="586" width="3" height="1" fill="#c0c0c0"/>
<rect x="162" y="586" width="3" height="1" fill="#c0c0c0"/>
<rect x="168" y="586" width="3" height="1" fill="#c0c0c0"/>
<rect x="174" y="586" width="3" height="1" fill="#c0c0c0"/>
<rect x="180" y="586" width="3" height="1" fill="#c0c0c0"/>
<rect x="186" y="586" width="3" height="1" fill="#c0c0c0"/>
<rect x="192" y="586" width="3" height="1" fill="#c0c0c0"/>
<rect x="198" y="586" width="3" height="1" fill="#c0c0c0"/>
<rect x="204" y="586" width="3" height="1" fill="#c0c0c0"/>
<rect x="210" y="586" width="3" height="1" fill="#c0c0c0"/>
<rect x="216" y="586" width="3" height="1" fill="#c0c0c0"/>
<rect x="222" y="586" width="3" height="1" fill="#c0c0c0"/>
<rect x="228" y="586" width="3" height="1" fill="#c0c0c0"/>
<rect x="234" y="586" width="3" height="1" fill="#c0c0c0"/>
<rect x="240" y="586" width="3" height="1" fill="#c0c0c0"/>
<rect x="246" y="586" width="3" height="1" fill="#c0c0c0"/>
<rect x="252" y="586" width="3" height="1" fill="#c0c0c0"/>
<rect x="258" y="586" width="3" height="1" fill="#c0c0c0"/>
<rect x="264" y="586" width="3" height="1" fill="#c0c0c0"/>
<rect x="270" y="586" width="3" height="1" fill="#c0c0c0"/>
<rect x="276" y="586" width="3" height="1" fill="#c0c0c0"/>
<rect x="282" y="586" width="3" height="1" fill="#c0c0c0"/>
<rect x="288" y="586" width="3" height="1" fill="#c0c0c0"/>
<rect x="294" y="586" width="3" height="1" fill="#c0c0c0"/>
<rect x="300" y="586" width="3" height="1" fill="#c0c0c0"/>
<rect x="306" y="586" width="3" height="1" fill="#c0c0c0"/>
<rect x="312" y="586" width="3" height="1" fill="#c0c0c0"/>
<rect x="318" y="586" width="3" height="1" fill="#c0c0c0"/>
<rect x="324" y="586" width="3" height="1" fill="#c0c0c0"/>
<rect x="330" y="586" width="3" height="1" fill="#c0c0c0"/>
<rect x="336" y="586" width="3" height="1" fill="#c0c0c0"/>
<rect x="342" y="586" width="3" height="1" fill="#c0c0c0"/>
<rect x="348" y="586" width="3" height="1" fill="#c0c0c0"/>
<rect x="354" y="586" width="3" height="1" fill="#c0c0c0"/>
<rect x="360" y="586" width="3" height="1" fill="#c0c0c0"/>
<rect x="366" y="586" width="3" height="1" fill="#c0c0c0"/>
<rect x="372" y="586" width="3" height="1" fill="#c0c0c0"/>
<rect x="378" y="586" width="3" height="1" fill="#c0c0c0"/>
<rect x="384" y="586" width="3" height="1" fill="#c0c0c0"/>
<rect x="390" y="586" width="3" height="1" fill="#c0c0c0"/>
<rect x="396" y="586" width="3" height="1" fill="#c0c0c0"/>
<rect x="402" y="586" width="3" height="1" fill="#c0c0c0"/>
<rect x="408" y="586" width="3" height="1" fill="#c0c0c0"/>
<rect x="414" y="586" width="3" height="1" fill="#c0c0c0"/>
<rect x="420" y="586" width="3" height="1" fill="#c0c0c0"/>
<rect x="426" y="586" width="3" height="1" fill="#c0c0c0"/>
<rect x="432" y="586" width="3" height="1" fill="#c0c0c0"/>
<rect x="438" y="586" width="3" height="1" fill="#c0c0c0"/>
<rect x="444" y="586" width="3" height="1" fill="#c0c0c0"/>
<rect x="450" y="586" width="3" height="1" fill="#c0c0c0"/>
<rect x="456" y="586" width="3" height="1" fill="#c0c0c0"/>
<rect x="462" y="586" width="3" height="1" fill="#c0c0c0"/>
<rect x="468" y="586" width="3" height="1" fill="#c0c0c0"/>
<rect x="474" y="586" width="3" height="1" fill="#c0c0c0"/>
<rect x="480" y="586" width="3" height="1" fill="#c0c0c0"/>
<rect x="486" y="586" width="3" height="1" fill="#c0c0c0"/>
<rect x="492" y="586" width="3" height="1" fill="#c0c0c0"/>
<rect x="498" y="586" width="3" height="1" fill="#c0c0c0"/>
<rect x="504" y="586" width="3" height="1" fill="#c0c0c0"/>
<rect x="510" y="586" width="3" height="1" fill="#c0c0c0"/>
<rect x="516" y="586" width="3" height="1" fill="#c0c0c0"/>
<rect x="522" y="586" width="3" height="1" fill="#c0c0c0"/>
<rect x="528" y="586" width="3" height="1" fill="#c0c0c0"/>
<rect x="534" y="586" width="3" height="1" fill="#c0c0c0"/>
<rect x="540" y="586" width="3" height="1" fill="#c0c0c0"/>
<rect x="546" y="586" width="3" height="1" fill="#c0c0c0"/>
<rect x="552" y="586" width="3" height="1" fill="#c0c0c0"/>
<rect x="558" y="586" width="3" height="1" fill="#c0c0c0"/>
<rect x="564" y="586" width="3" height="1" fill="#c0c0c0"/>
<rect x="570" y="586" width="3" height="1" fill="#c0c0c0"/>
<rect x="576" y="586" width="3" height="1" fill="#c0c0c0"/>
<rect x="582" y="586" width="3" height="1" fill="#c0c0c0"/>
<rect x="588" y="586" width="3" height="1" fill="#c0c0c0"/>
<rect x="594" y="586" width="3" height="1" fill="#c0c0c0"/>
<rect x="600" y="586" width="3" height="1" fill="#c0c0c0"/>
<rect x="606" y="586" width="3" height="1" fill="#c0c0c0"/>
<rect x="612" y="586" width="3" height="1" fill="#c0c0c0"/>
<rect x="618" y="586" width="3" height="1" fill="#c0c0c0"/>
<rect x="624" y="586" width="3" height="1" fill="#c0c0c0"/>
<rect x="630" y="586" width="3" height="1" fill="#c0c0c0"/>
<rect x="636" y="586" width="3" height="1" fill="#c0c0c0"/>
<rect x="642" y="586" width="3" height="1" fill="#c0c0c0"/>
<rect x="648" y="586" width="3" height="1" fill="#c0c0c0"/>
<rect x="654" y="586" width="3" height="1" fill="#c0c0c0"/>
<rect x="660" y="586" width="3" height="1" fill="#c0c0c0"/>
<rect x="666" y="586" width="3" height="1" fill="#c0c0c0"/>
<rect x="672" y="586" width="3" height="1" fill="#c0c0c0"/>
<rect x="678" y="586" width="3" height="1" fill="#c0c0c0"/>
<rect x="684" y="586" width="3" height="1" fill="#c0c0c0"/>
<rect x="690" y="586" width="3" height="1" fill="#c0c0c0"/>
<rect x="696" y="586" width="3" height="1" fill="#c0c0c0"/>
<rect x="702" y="586" width="3" height="1" fill="#c0c0c0"/>
<rect x="708" y="586" width="3" height="1" fill="#c0c0c0"/>
<rect x="714" y="586" width="3" height="1" fill="#c0c0c0"/>
<rect x="720" y="586" width="3" height="1" fill="#c0c0c0"/>
<rect x="726" y="586" width="3" height="1" fill="#c0c0c0"/>
<rect x="732" y="586" width="3" height="1" fill="#c0c0c0"/>
<rect x="738" y="586" width="3" height="1" fill="#c0c0c0"/>
<rect x="744" y="586" width="3" height="1" fill="#c0c0c0"/>
<rect x="750" y="586" width="3" height="1" fill="#c0c0c0"/>
<rect x="756" y="586" width="3" height="1" fill="#c0c0c0"/>
<rect x="762" y="586" width="3" height="1" fill="#c0c0c0"/>
<rect x="768" y="586" width="3" height="1" fill="#c0c0c0"/>
<rect x="774" y="586" width="3" height="1" fill="#c0c0c0"/>
<rect x="780" y="586" width="3" height="1" fill="#c0c0c0"/>
<rect x="786" y="586" width="3" height="1" fill="#c0c0c0"/>
<rect x="792" y="586" width="3" height="1" fill="#c0c0c0"/>
<rect x="798" y="586" width="3" height="1" fill="#c0c0c0"/>
<rect x="804" y="586" width="3" height="1" fill="#c0c0c0"/>
<rect x="810" y="586" width="3" height="1" fill="#c0c0c0"/>
<rect x="816" y="586" width="3" height="1" fill="#c0c0c0"/>
<rect x="822" y="586" width="3" height="1" fill="#c0c0c0"/>
<rect x="828" y="586" width="3" height="1" fill="#c0c0c0"/>
<rect x="834" y="586" width="3" height="1" fill="#c0c0c0"/>
<rect x="840" y="586" width="3" height="1" fill="#c0c0c0"/>
<rect x="846" y="586" width="3" height="1" fill="#c0c0c0"/>
<rect x="852" y="586" width="3" height="1" fill="#c0c0c0"/>
<rect x="858" y="586" width="3" height="1" fill="#c0c0c0"/>
<rect x="864" y="586" width="3" height="1" fill="#c0c0c0"/>
<rect x="870" y="586" width="3" height="1" fill="#c0c0c0"/>
<rect x="876" y="586" width="3" height="1" fill="#c0c0c0"/>
<rect x="882" y="586" width="3" height="1" fill="#c0c0c0"/>
<rect x="888" y="586" width="3" height="1" fill="#c0c0c0"/>
<rect x="894" y="586" width="3" height="1" fill="#c0c0c0"/>
<rect x="900" y="586" width="3" height="1" fill="#c0c0c0"/>
<rect x="906" y="586" width="3" height="1" fill="#c0c0c0"/>
<rect x="912" y="586" width="3" height="1" fill="#c0c0c0"/>
<rect x="918" y="586" width="3" height="1" fill="#c0c0c0"/>
<rect x="924" y="586" width="3" height="1" fill="#c0c0c0"/>
<rect x="930" y="586" width="3" height="1" fill="#c0c0c0"/>
<rect x="936" y="586" width="3" height="1" fill="#c0c0c0"/>
<rect x="942" y="586" width="3" height="1" fill="#c0c0c0"/>
<rect x="948" y="586" width="3" height="1" fill="#c0c0c0"/>
<rect x="954" y="586" width="3" height="1" fill="#c0c0c0"/>
<rect x="960" y="586" width="3" height="1" fill="#c0c0c0"/>
<rect x="966" y="586" width="3" height="1" fill="#c0c0c0"/>
<rect x="972" y="586" width="3" height="1" fill="#c0c0c0"/>
<rect x="978" y="586" width="3" height="1" fill="#c0c0c0"/>
<rect x="984" y="586" width="3" height="1" fill="#c0c0c0"/>
<rect x="990" y="586" width="3" height="1" fill="#c0c0c0"/>
<rect x="996" y="586" width="3" height="1" fill="#c0c0c0"/>
<rect x="1002" y="586" width="3" height="1" fill="#c0c0c0"/>
<rect x="1008" y="586" width="3" height="1" fill="#c0c0c0"/>
<rect x="1014" y="586" width="3" height="1" fill="#c0c0c0"/>
<rect x="1020" y="586" width="3" height="1" fill="#c0c0c0"/>
<rect x="1026" y="586" width="3" height="1" fill="#c0c0c0"/>
<rect x="1032" y="586" width="3" height="1" fill="#c0c0c0"/>
<rect x="1038" y="586" width="3" height="1" fill="#c0c0c0"/>
<rect x="1044" y="586" width="3" height="1" fill="#c0c0c0"/>
<rect x="1050" y="586" width="3" height="1" fill="#c0c0c0"/>
<rect x="1056" y="586" width="3" height="1" fill="#c0c0c0"/>
<rect x="1062" y="586" width="3" height="1" fill="#c0c0c0"/>
<rect x="1068" y="586" width="3" height="1" fill="#c0c0c0"/>
<rect x="1074" y="586" width="3" height="1" fill="#c0c0c0"/>
<rect x="1080" y="586" width="3" height="1" fill="#c0c0c0"/>
<rect x="1086" y="586" width="3" height="1" fill="#c0c0c0"/>
<rect x="1092" y="586" width="3" height="1" fill="#c0c0c0"/>
<rect x="1098" y="586" width="3" height="1" fill="#c0c0c0"/>
<rect x="1104" y="586" width="3" height="1" fill="#c0c0c0"/>
<rect x="1110" y="586" width="3" height="1" fill="#c0c0c0"/>
<rect x="1116" y="586" width="3" height="1" fill="#c0c0c0"/>
<rect x="1122" y="586" width="3" height="1" fill="#c0c0c0"/>
<rect x="1128" y="586" width="3" height="1" fill="#c0c0c0"/>
<rect x="1134" y="586" width="3" height="1" fill="#c0c0c0"/>
<rect x="1140" y="586" width="3" height="1" fill="#c0c0c0"/>
<rect x="1146" y="586" width="3" height="1" fill="#c0c0c0"/>
<rect x="1152" y="586" width="3" height="1" fill="#c0c0c0"/>
<path d="M187 550h3v1h-3zM5 551h10v1h-10zM183 551h4v1h-4zM190 551h2v1h-2zM15 552h4v1h-4zM25 552h14v1h-14zM147 552h3v1h-3zM180 552h3v1h-3zM192 552h1v1h-1zM900 552h3v1h-3zM19 553h6v1h-6zM39 553h2v1h-2zM108 553h13v1h-13zM143 553h4v1h-4zM150 553h2v1h-2zM177 553h3v1h-3zM193 553h2v1h-2zM217 553h6v1h-6zM897 553h3v1h-3zM903 553h2v1h-2zM41 554h3v1h-3zM105 554h3v1h-3zM121 554h5v1h-5zM140 554h3v1h-3zM152 554h1v1h-1zM175 554h2v1h-2zM195 554h2v1h-2zM209 554h8v1h-8zM223 554h2v1h-2zM268 554h11v1h-11zM895 554h2v1h-2zM905 554h3v1h-3zM44 555h19v1h-19zM103 555h2v1h-2zM126 555h2v1h-2zM138 555h2v1h-2zM153 555h2v1h-2zM172 555h3v1h-3zM197 555h12v1h-12zM225 555h3v1h-3zM265 555h3v1h-3zM279 555h4v1h-4zM893 555h2v1h-2zM908 555h2v1h-2zM63 556h4v1h-4zM97 556h6v1h-6zM128 556h2v1h-2zM136 556h2v1h-2zM155 556h2v1h-2zM170 556h2v1h-2zM228 556h2v1h-2zM263 556h2v1h-2zM283 556h3v1h-3zM891 556h2v1h-2zM67 557h3v1h-3zM92 557h5v1h-5zM130 557h2v1h-2zM134 557h2v1h-2zM157 557h2v1h-2zM168 557h2v1h-2zM230 557h1v1h-1zM257 557h6v1h-6zM286 557h2v1h-2zM889 557h2v1h-2zM70 558h1v1h-1zM89 558h3v1h-3zM132 558h2v1h-2zM159 558h4v1h-4zM166 558h2v1h-2zM231 558h1v1h-1zM249 558h8v1h-8zM288 558h2v1h-2zM745 558h14v1h-14zM857 558h16v1h-16zM888 558h1v1h-1zM71 559h2v1h-2zM87 559h2v1h-2zM163 559h3v1h-3zM232 559h1v1h-1zM245 559h4v1h-4zM290 559h2v1h-2zM737 559h8v1h-8zM759 559h2v1h-2zM812 559h2v1h-2zM852 559h5v1h-5zM873 559h8v1h-8zM886 559h2v1h-2zM73 560h1v1h-1zM84 560h3v1h-3zM233 560h1v1h-1zM243 560h2v1h-2zM292 560h2v1h-2zM729 560h8v1h-8zM761 560h3v1h-3zM810 560h2v1h-2zM814 560h1v1h-1zM849 560h3v1h-3zM881 560h5v1h-5zM74 561h1v1h-1zM81 561h3v1h-3zM234 561h1v1h-1zM241 561h2v1h-2zM294 561h1v1h-1zM724 561h5v1h-5zM764 561h5v1h-5zM808 561h2v1h-2zM815 561h1v1h-1zM847 561h2v1h-2zM75 562h2v1h-2zM79 562h2v1h-2zM235 562h1v1h-1zM240 562h1v1h-1zM295 562h2v1h-2zM721 562h3v1h-3zM769 562h6v1h-6zM806 562h2v1h-2zM816 562h1v1h-1zM843 562h4v1h-4zM77 563h2v1h-2zM236 563h1v1h-1zM238 563h2v1h-2zM297 563h1v1h-1zM719 563h2v1h-2zM775 563h2v1h-2zM805 563h1v1h-1zM817 563h1v2h-1zM839 563h4v1h-4zM237 564h1v1h-1zM298 564h1v1h-1zM717 564h2v1h-2zM777 564h3v1h-3zM803 564h2v1h-2zM835 564h4v1h-4zM299 565h2v1h-2zM499 565h3v1h-3zM715 565h2v1h-2zM780 565h11v1h-11zM801 565h2v1h-2zM818 565h1v1h-1zM831 565h4v1h-4zM301 566h2v1h-2zM379 566h3v1h-3zM495 566h4v1h-4zM502 566h1v1h-1zM713 566h2v1h-2zM791 566h2v1h-2zM800 566h1v1h-1zM819 566h1v1h-1zM827 566h4v1h-4zM303 567h2v1h-2zM375 567h4v1h-4zM382 567h1v1h-1zM401 567h6v1h-6zM493 567h2v1h-2zM503 567h2v1h-2zM712 567h1v1h-1zM793 567h3v1h-3zM798 567h2v1h-2zM820 567h1v1h-1zM823 567h4v1h-4zM305 568h3v1h-3zM369 568h6v1h-6zM383 568h1v1h-1zM397 568h4v1h-4zM407 568h2v1h-2zM491 568h2v1h-2zM505 568h1v1h-1zM710 568h2v1h-2zM796 568h2v1h-2zM821 568h2v1h-2zM308 569h2v1h-2zM363 569h6v1h-6zM384 569h1v1h-1zM395 569h2v1h-2zM409 569h3v1h-3zM427 569h3v1h-3zM490 569h1v1h-1zM506 569h1v1h-1zM549 569h1v1h-1zM709 569h1v1h-1zM310 570h1v1h-1zM359 570h4v1h-4zM385 570h2v1h-2zM393 570h2v1h-2zM412 570h5v1h-5zM423 570h4v1h-4zM430 570h1v1h-1zM489 570h1v1h-1zM507 570h2v1h-2zM548 570h1v1h-1zM550 570h1v1h-1zM625 570h5v1h-5zM707 570h2v1h-2zM311 571h1v1h-1zM348 571h11v1h-11zM387 571h1v1h-1zM392 571h1v1h-1zM417 571h6v1h-6zM431 571h1v1h-1zM487 571h2v1h-2zM509 571h2v1h-2zM547 571h1v1h-1zM551 571h1v1h-1zM621 571h4v1h-4zM630 571h2v1h-2zM706 571h1v1h-1zM312 572h1v1h-1zM346 572h2v1h-2zM388 572h1v1h-1zM390 572h2v1h-2zM432 572h1v1h-1zM486 572h1v1h-1zM511 572h4v1h-4zM529 572h5v1h-5zM545 572h2v1h-2zM552 572h1v1h-1zM620 572h1v2h-1zM632 572h2v1h-2zM691 572h4v1h-4zM705 572h1v1h-1zM313 573h1v1h-1zM344 573h2v1h-2zM389 573h1v1h-1zM433 573h1v2h-1zM483 573h3v1h-3zM515 573h14v1h-14zM534 573h2v1h-2zM544 573h1v1h-1zM553 573h1v1h-1zM634 573h2v1h-2zM641 573h5v1h-5zM687 573h4v1h-4zM695 573h2v1h-2zM703 573h2v1h-2zM314 574h1v1h-1zM342 574h2v1h-2zM479 574h4v1h-4zM536 574h2v1h-2zM543 574h1v1h-1zM554 574h1v1h-1zM573 574h9v1h-9zM619 574h1v1h-1zM636 574h5v1h-5zM646 574h2v1h-2zM684 574h3v1h-3zM697 574h3v1h-3zM702 574h1v1h-1zM315 575h1v1h-1zM332 575h10v1h-10zM434 575h1v1h-1zM473 575h6v1h-6zM538 575h2v1h-2zM542 575h1v1h-1zM555 575h1v1h-1zM571 575h2v1h-2zM582 575h1v1h-1zM618 575h1v1h-1zM648 575h1v1h-1zM681 575h3v1h-3zM700 575h2v1h-2zM316 576h1v1h-1zM329 576h3v1h-3zM435 576h1v1h-1zM469 576h4v1h-4zM540 576h2v1h-2zM556 576h1v1h-1zM570 576h1v1h-1zM583 576h2v1h-2zM617 576h1v2h-1zM649 576h2v1h-2zM679 576h2v1h-2zM317 577h4v1h-4zM327 577h2v1h-2zM436 577h1v1h-1zM467 577h2v1h-2zM557 577h2v1h-2zM569 577h1v1h-1zM585 577h1v1h-1zM596 577h5v1h-5zM651 577h2v1h-2zM677 577h2v1h-2zM321 578h6v1h-6zM437 578h10v1h-10zM466 578h1v1h-1zM559 578h2v1h-2zM567 578h2v1h-2zM586 578h1v1h-1zM593 578h3v1h-3zM601 578h5v1h-5zM616 578h1v1h-1zM653 578h9v1h-9zM675 578h2v1h-2zM447 579h2v1h-2zM465 579h1v1h-1zM561 579h3v1h-3zM566 579h1v1h-1zM587 579h2v1h-2zM591 579h2v1h-2zM606 579h2v1h-2zM615 579h1v1h-1zM662 579h2v1h-2zM673 579h2v1h-2zM449 580h3v1h-3zM463 580h2v1h-2zM564 580h2v1h-2zM589 580h2v1h-2zM608 580h2v1h-2zM614 580h1v2h-1zM664 580h2v1h-2zM672 580h1v1h-1zM452 581h5v1h-5zM462 581h1v1h-1zM610 581h2v1h-2zM666 581h2v1h-2zM670 581h2v1h-2zM457 582h5v1h-5zM612 582h2v1h-2zM668 582h2v1h-2z" fill="#1e90ff"/>
</g>
<rect x="1156" y="63" width="2" height="1" fill="#000"/>
<rect x="1156" y="96" width="2" height="1" fill="#000"/>
<rect x="1156" y="129" width="2" height="1" fill="#000"/>
<rect x="1156" y="162" width="2" height="1" fill="#000"/>
<rect x="1156" y="195" width="2" height="1" fill="#000"/>
<rect x="1156" y="228" width="2" height="1" fill="#000"/>
<rect x="1156" y="261" width="2" height="1" fill="#000"/>
<rect x="1156" y="294" width="2" height="1" fill="#000"/>
<rect x="1156" y="327" width="2" height="1" fill="#000"/>
<rect x="1156" y="360" width="2" height="1" fill="#000"/>
<rect x="1156" y="393" width="2" height="1" fill="#000"/>
<rect x="1156" y="426" width="2" height="1" fill="#000"/>
<rect x="1156" y="459" width="2" height="1" fill="#000"/>
<rect x="1156" y="466" width="1" height="1" fill="#000"/>
<rect x="1156" y="499" width="1" height="1" fill="#000"/>
<rect x="1156" y="521" width="1" height="1" fill="#000"/>
<rect x="1156" y="526" width="1" height="1" fill="#000"/>
<rect x="1156" y="611" width="1" height="1" fill="#000"/>
<rect x="5" y="613" width="1" height="4" fill="#000"/>
<rect x="69" y="613" width="1" height="4" fill="#000"/>
<rect x="133" y="613" width="1" height="4" fill="#000"/>
<rect x="197" y="613" width="1" height="4" fill="#000"/>
<rect x="261" y="613" width="1" height="4" fill="#000"/>
<rect x="325" y="613" width="1" height="4" fill="#000"/>
<rect x="389" y="613" width="1" height="4" fill="#000"/>
<rect x="453" y="613" width="1" height="4" fill="#000"/>
<rect x="517" y="613" width="1" height="4" fill="#000"/>
<rect x="581" y="613" width="1" height="4" fill="#000"/>
<rect x="645" y="613" width="1" height="4" fill="#000"/>
<rect x="709" y="613" width="1" height="4" fill="#000"/>
<rect x="773" y="613" width="1" height="4" fill="#000"/>
<rect x="837" y="613" width="1" height="4" fill="#000"/>
<rect x="901" y="613" width="1" height="4" fill="#000"/>
<rect x="1157" y="115" width="41" height="11" fill="#000"/>
<g shape-rendering="auto">
<path d="M8 37h7l-3.5 4z" fill="#000"/>
<text x="20.5" y="42" font-size="9.8" fill="#000" textLength="64.5" lengthAdjust="spacingAndGlyphs" stroke="#000" stroke-width="0.18">USDCHF,Daily</text>
<text x="91.4" y="42" font-size="9.8" fill="#000" textLength="140.2" lengthAdjust="spacingAndGlyphs" stroke="#000" stroke-width="0.18">1.00709 1.00744 1.00550 1.00579</text>
<text x="1161.3" y="67" font-size="9.8" fill="#000" textLength="32.6" lengthAdjust="spacingAndGlyphs" stroke="#000" stroke-width="0.18">1.01160</text>
<text x="1161.3" y="100" font-size="9.8" fill="#000" textLength="32.6" lengthAdjust="spacingAndGlyphs" stroke="#000" stroke-width="0.18">1.00820</text>
<text x="1161.3" y="133" font-size="9.8" fill="#000" textLength="32.6" lengthAdjust="spacingAndGlyphs" stroke="#000" stroke-width="0.18">1.00480</text>
<text x="1161.3" y="166" font-size="9.8" fill="#000" textLength="32.6" lengthAdjust="spacingAndGlyphs" stroke="#000" stroke-width="0.18">1.00140</text>
<text x="1160.7" y="199" font-size="9.8" fill="#000" textLength="33.2" lengthAdjust="spacingAndGlyphs" stroke="#000" stroke-width="0.18">0.99800</text>
<text x="1160.7" y="232" font-size="9.8" fill="#000" textLength="33.2" lengthAdjust="spacingAndGlyphs" stroke="#000" stroke-width="0.18">0.99460</text>
<text x="1160.7" y="265" font-size="9.8" fill="#000" textLength="33.2" lengthAdjust="spacingAndGlyphs" stroke="#000" stroke-width="0.18">0.99110</text>
<text x="1160.7" y="298" font-size="9.8" fill="#000" textLength="33.2" lengthAdjust="spacingAndGlyphs" stroke="#000" stroke-width="0.18">0.98770</text>
<text x="1160.7" y="331" font-size="9.8" fill="#000" textLength="33.2" lengthAdjust="spacingAndGlyphs" stroke="#000" stroke-width="0.18">0.98430</text>
<text x="1160.7" y="364" font-size="9.8" fill="#000" textLength="33.2" lengthAdjust="spacingAndGlyphs" stroke="#000" stroke-width="0.18">0.98090</text>
<text x="1160.7" y="397" font-size="9.8" fill="#000" textLength="33.2" lengthAdjust="spacingAndGlyphs" stroke="#000" stroke-width="0.18">0.97750</text>
<text x="1160.7" y="430" font-size="9.8" fill="#000" textLength="33.2" lengthAdjust="spacingAndGlyphs" stroke="#000" stroke-width="0.18">0.97410</text>
<text x="1160.7" y="463" font-size="9.8" fill="#000" textLength="33.2" lengthAdjust="spacingAndGlyphs" stroke="#000" stroke-width="0.18">0.97070</text>
<text x="1161.3" y="124" font-size="9.8" fill="#fff" textLength="32.6" lengthAdjust="spacingAndGlyphs" stroke="#fff" stroke-width="0.18">1.00579</text>
<text x="1158.6" y="475" font-size="9.8" fill="#000" textLength="38" lengthAdjust="spacingAndGlyphs" stroke="#000" stroke-width="0.18">0.005985</text>
<text x="1158.6" y="503" font-size="9.8" fill="#000" textLength="18.0" lengthAdjust="spacingAndGlyphs" stroke="#000" stroke-width="0.18">0.00</text>
<text x="1158.7" y="519" font-size="9.8" fill="#000" textLength="41" lengthAdjust="spacingAndGlyphs" stroke="#000" stroke-width="0.18">-0.003954</text>
<text x="1159.5" y="535" font-size="9.8" fill="#000" textLength="15.4" lengthAdjust="spacingAndGlyphs" stroke="#000" stroke-width="0.18">100</text>
<text x="1158.2" y="555" font-size="9.8" fill="#000" textLength="10.3" lengthAdjust="spacingAndGlyphs" stroke="#000" stroke-width="0.18">70</text>
<text x="1158.2" y="590" font-size="9.8" fill="#000" textLength="10.3" lengthAdjust="spacingAndGlyphs" stroke="#000" stroke-width="0.18">30</text>
<text x="1158.2" y="609" font-size="9.8" fill="#000" textLength="5.1" lengthAdjust="spacingAndGlyphs" stroke="#000" stroke-width="0.18">0</text>
<text x="9.7" y="477" font-size="9.8" fill="#000" textLength="147" lengthAdjust="spacingAndGlyphs" stroke="#000" stroke-width="0.18">MACD(12,26,9) 0.003686 0.002730</text>
<text x="9.7" y="537" font-size="9.8" fill="#000" textLength="67" lengthAdjust="spacingAndGlyphs" stroke="#000" stroke-width="0.18">RSI(14) 66.1380</text>
<text x="4.2" y="625" font-size="9.8" fill="#000" textLength="45.9" lengthAdjust="spacingAndGlyphs" stroke="#000" stroke-width="0.18">4 Oct 2018</text>
<text x="68.2" y="625" font-size="9.8" fill="#000" textLength="51.2" lengthAdjust="spacingAndGlyphs" stroke="#000" stroke-width="0.18">13 Oct 2018</text>
<text x="132.2" y="625" font-size="9.8" fill="#000" textLength="51.2" lengthAdjust="spacingAndGlyphs" stroke="#000" stroke-width="0.18">23 Oct 2018</text>
<text x="196.2" y="625" font-size="9.8" fill="#000" textLength="48.0" lengthAdjust="spacingAndGlyphs" stroke="#000" stroke-width="0.18">1 Nov 2018</text>
<text x="260.2" y="625" font-size="9.8" fill="#000" textLength="53.2" lengthAdjust="spacingAndGlyphs" stroke="#000" stroke-width="0.18">10 Nov 2018</text>
<text x="324.2" y="625" font-size="9.8" fill="#000" textLength="53.2" lengthAdjust="spacingAndGlyphs" stroke="#000" stroke-width="0.18">20 Nov 2018</text>
<text x="388.2" y="625" font-size="9.8" fill="#000" textLength="53.2" lengthAdjust="spacingAndGlyphs" stroke="#000" stroke-width="0.18">29 Nov 2018</text>
<text x="452.2" y="625" font-size="9.8" fill="#000" textLength="48.0" lengthAdjust="spacingAndGlyphs" stroke="#000" stroke-width="0.18">8 Dec 2018</text>
<text x="516.2" y="625" font-size="9.8" fill="#000" textLength="53.2" lengthAdjust="spacingAndGlyphs" stroke="#000" stroke-width="0.18">18 Dec 2018</text>
<text x="580.2" y="625" font-size="9.8" fill="#000" textLength="53.2" lengthAdjust="spacingAndGlyphs" stroke="#000" stroke-width="0.18">27 Dec 2018</text>
<text x="644.2" y="625" font-size="9.8" fill="#000" textLength="46.5" lengthAdjust="spacingAndGlyphs" stroke="#000" stroke-width="0.18">5 Jan 2019</text>
<text x="708.2" y="625" font-size="9.8" fill="#000" textLength="51.7" lengthAdjust="spacingAndGlyphs" stroke="#000" stroke-width="0.18">15 Jan 2019</text>
<text x="772.2" y="625" font-size="9.8" fill="#000" textLength="51.7" lengthAdjust="spacingAndGlyphs" stroke="#000" stroke-width="0.18">24 Jan 2019</text>
<text x="836.2" y="625" font-size="9.8" fill="#000" textLength="47.5" lengthAdjust="spacingAndGlyphs" stroke="#000" stroke-width="0.18">2 Feb 2019</text>
<text x="900.2" y="625" font-size="9.8" fill="#000" textLength="52.7" lengthAdjust="spacingAndGlyphs" stroke="#000" stroke-width="0.18">12 Feb 2019</text>
</g>
<rect x="202" y="635" width="100" height="19" fill="#ffffff"/>
<rect x="202" y="635" width="1" height="19" fill="#000"/>
<rect x="301" y="635" width="1" height="19" fill="#000"/>
<rect x="202" y="653" width="100" height="1" fill="#000"/>
<rect x="98" y="638" width="1" height="15" fill="#696969"/>
<rect x="406" y="638" width="1" height="15" fill="#696969"/>
<rect x="511" y="638" width="1" height="15" fill="#696969"/>
<rect x="595" y="638" width="1" height="15" fill="#696969"/>
<rect x="686" y="638" width="1" height="15" fill="#696969"/>
<rect x="787" y="638" width="1" height="15" fill="#696969"/>
<rect x="875" y="638" width="1" height="15" fill="#696969"/>
<rect x="978" y="638" width="1" height="15" fill="#696969"/>
<rect x="1046" y="638" width="1" height="15" fill="#696969"/>
<rect x="1138" y="638" width="1" height="15" fill="#696969"/>
<g shape-rendering="auto">
<text x="18.5" y="650" font-size="12.5" fill="#6d6d6d" textLength="67.5" lengthAdjust="spacingAndGlyphs">EURUSD,H4</text>
<text x="109" y="650" font-size="12.5" fill="#6d6d6d" textLength="81.8" lengthAdjust="spacingAndGlyphs">AUDUSD,Daily</text>
<text x="313" y="650" font-size="12.5" fill="#6d6d6d" textLength="81.5" lengthAdjust="spacingAndGlyphs">USDCAD,Daily</text>
<text x="416" y="650" font-size="12.5" fill="#6d6d6d" textLength="83.5" lengthAdjust="spacingAndGlyphs">USDCNH,Daily</text>
<text x="520.5" y="650" font-size="12.5" fill="#6d6d6d" textLength="63.2" lengthAdjust="spacingAndGlyphs">USDJPY,H4</text>
<text x="605" y="650" font-size="12.5" fill="#6d6d6d" textLength="69.5" lengthAdjust="spacingAndGlyphs">XAUUSD,H4</text>
<text x="697.5" y="650" font-size="12.5" fill="#6d6d6d" textLength="78.0" lengthAdjust="spacingAndGlyphs">GBPUSD,M30</text>
<text x="798.7" y="650" font-size="12.5" fill="#6d6d6d" textLength="63.3" lengthAdjust="spacingAndGlyphs">SP500,M15</text>
<text x="886" y="650" font-size="12.5" fill="#6d6d6d" textLength="80.4" lengthAdjust="spacingAndGlyphs">GBPUSD,Daily</text>
<text x="988.5" y="650" font-size="12.5" fill="#6d6d6d" textLength="46.9" lengthAdjust="spacingAndGlyphs">DJ30,H4</text>
<text x="1057" y="650" font-size="12.5" fill="#6d6d6d" textLength="69.8" lengthAdjust="spacingAndGlyphs">TECH100,H1</text>
<text x="212.6" y="650" font-size="12.5" fill="#000" textLength="77.4" lengthAdjust="spacingAndGlyphs">USDCHF,Daily</text>
<clipPath id="c4"><rect x="1140" y="636" width="26" height="19"/></clipPath>
<g clip-path="url(#c4)">
<text x="1150" y="650" font-size="12.5" fill="#6d6d6d" textLength="35.9" lengthAdjust="spacingAndGlyphs">UK100</text>
</g>
<path d="M1174 641v7l-3.5-3.5z" fill="#a0a0a0"/><path d="M1190 641v7l3.5-3.5z" fill="#000"/>
</g>
</svg></body></html>
